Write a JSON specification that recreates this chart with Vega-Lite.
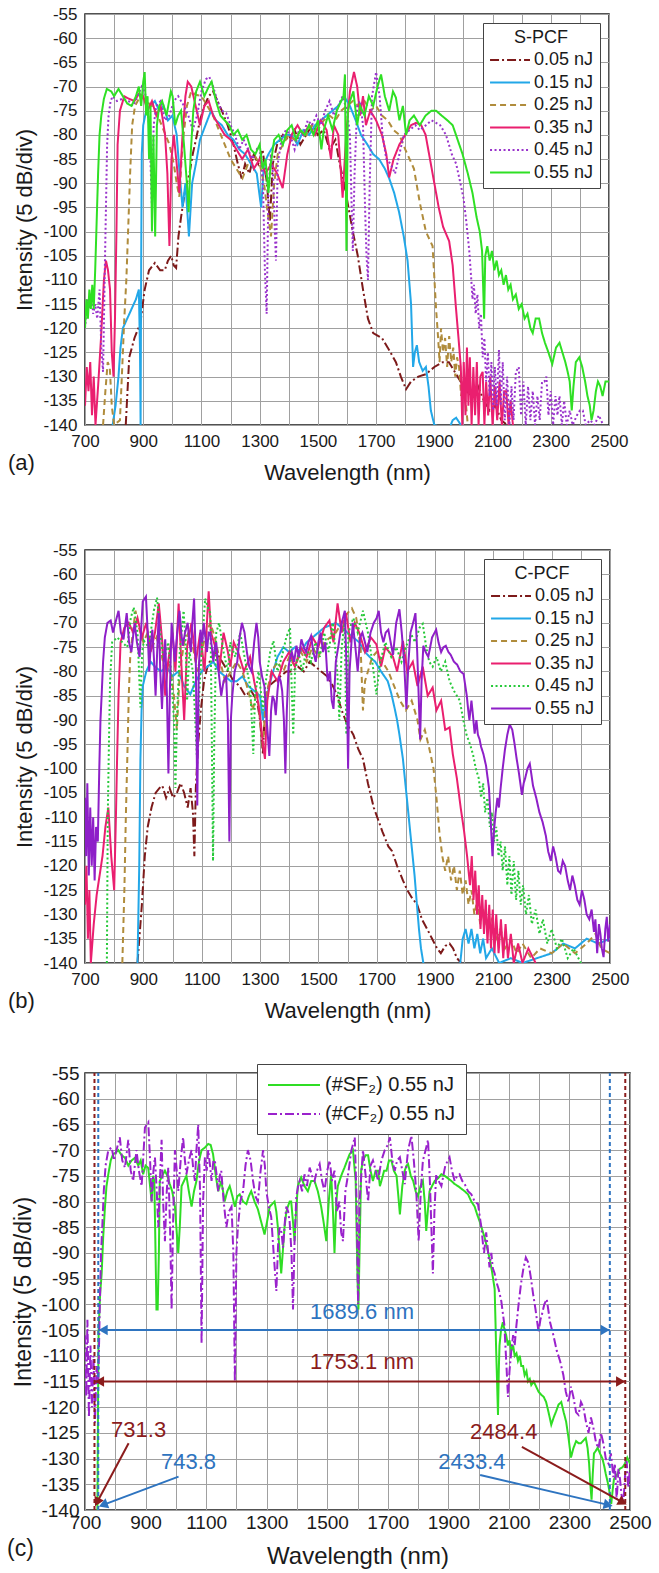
{
"$schema": "https://vega.github.io/schema/vega-lite/v6.json",
"background": "white",
"padding": {"left": 6, "top": 4, "right": 5, "bottom": 5},
"config": {
  "view": {"stroke": "#1a1a1a", "strokeWidth": 1.5},
  "axis": {"grid": true, "gridColor": "#a0a0a0", "gridWidth": 1, "ticks": false, "domain": false, "labelFont": "Liberation Sans", "titleFont": "Liberation Sans", "titleFontWeight": "normal", "labelColor": "#1a1a1a", "titleColor": "#1a1a1a", "labelOverlap": false, "labelFlush": false},
  "legend": {"labelFont": "Liberation Sans", "titleFont": "Liberation Sans", "titleFontWeight": "normal", "labelColor": "#1a1a1a", "titleColor": "#1a1a1a"},
  "title": {"font": "Liberation Sans", "fontWeight": "normal", "color": "#1a1a1a"}
},
"datasets": {
"a": [
{"s":"0.05 nJ","x":840,"y":-140},{"s":"0.05 nJ","x":852,"y":-126},{"s":"0.05 nJ","x":870,"y":-122},{"s":"0.05 nJ","x":890,"y":-119},{"s":"0.05 nJ","x":905,"y":-112},{"s":"0.05 nJ","x":920,"y":-108},{"s":"0.05 nJ","x":940,"y":-106.5},{"s":"0.05 nJ","x":958,"y":-108},{"s":"0.05 nJ","x":974,"y":-108},{"s":"0.05 nJ","x":985,"y":-106},{"s":"0.05 nJ","x":996,"y":-105},{"s":"0.05 nJ","x":1005,"y":-107},{"s":"0.05 nJ","x":1013,"y":-107.5},{"s":"0.05 nJ","x":1021,"y":-101},{"s":"0.05 nJ","x":1030,"y":-97},{"s":"0.05 nJ","x":1045,"y":-91},{"s":"0.05 nJ","x":1059,"y":-88},{"s":"0.05 nJ","x":1070,"y":-84},{"s":"0.05 nJ","x":1081,"y":-81},{"s":"0.05 nJ","x":1095,"y":-77},{"s":"0.05 nJ","x":1110,"y":-74},{"s":"0.05 nJ","x":1125,"y":-72},{"s":"0.05 nJ","x":1140,"y":-71},{"s":"0.05 nJ","x":1155,"y":-73},{"s":"0.05 nJ","x":1170,"y":-75},{"s":"0.05 nJ","x":1190,"y":-78},{"s":"0.05 nJ","x":1210,"y":-82},{"s":"0.05 nJ","x":1225,"y":-86},{"s":"0.05 nJ","x":1238,"y":-89},{"s":"0.05 nJ","x":1250,"y":-86},{"s":"0.05 nJ","x":1265,"y":-88},{"s":"0.05 nJ","x":1280,"y":-84},{"s":"0.05 nJ","x":1295,"y":-86},{"s":"0.05 nJ","x":1310,"y":-83},{"s":"0.05 nJ","x":1325,"y":-90},{"s":"0.05 nJ","x":1335,"y":-98},{"s":"0.05 nJ","x":1345,"y":-86},{"s":"0.05 nJ","x":1360,"y":-82},{"s":"0.05 nJ","x":1380,"y":-80},{"s":"0.05 nJ","x":1400,"y":-81},{"s":"0.05 nJ","x":1420,"y":-79},{"s":"0.05 nJ","x":1440,"y":-82},{"s":"0.05 nJ","x":1460,"y":-80},{"s":"0.05 nJ","x":1480,"y":-78},{"s":"0.05 nJ","x":1500,"y":-80},{"s":"0.05 nJ","x":1520,"y":-79},{"s":"0.05 nJ","x":1540,"y":-83},{"s":"0.05 nJ","x":1560,"y":-81},{"s":"0.05 nJ","x":1575,"y":-86},{"s":"0.05 nJ","x":1590,"y":-90},{"s":"0.05 nJ","x":1605,"y":-95},{"s":"0.05 nJ","x":1620,"y":-100},{"s":"0.05 nJ","x":1637,"y":-105},{"s":"0.05 nJ","x":1655,"y":-112},{"s":"0.05 nJ","x":1672,"y":-118},{"s":"0.05 nJ","x":1690,"y":-121},{"s":"0.05 nJ","x":1705,"y":-121.5},{"s":"0.05 nJ","x":1720,"y":-122},{"s":"0.05 nJ","x":1740,"y":-124},{"s":"0.05 nJ","x":1768,"y":-127},{"s":"0.05 nJ","x":1785,"y":-130},{"s":"0.05 nJ","x":1803,"y":-132.6},{"s":"0.05 nJ","x":1820,"y":-131},{"s":"0.05 nJ","x":1845,"y":-130},{"s":"0.05 nJ","x":1871,"y":-129.5},{"s":"0.05 nJ","x":1900,"y":-128},{"s":"0.05 nJ","x":1929,"y":-127},{"s":"0.05 nJ","x":1950,"y":-127},{"s":"0.05 nJ","x":1970,"y":-129},{"s":"0.05 nJ","x":1990,"y":-131},{"s":"0.05 nJ","x":2010,"y":-133},{"s":"0.05 nJ","x":2030,"y":-134},{"s":"0.05 nJ","x":2050,"y":-132},{"s":"0.05 nJ","x":2070,"y":-135},{"s":"0.05 nJ","x":2090,"y":-137},{"s":"0.05 nJ","x":2110,"y":-136},{"s":"0.05 nJ","x":2130,"y":-139},{"s":"0.05 nJ","x":2150,"y":-140},
{"s":"0.15 nJ","x":795,"y":-140},{"s":"0.15 nJ","x":805,"y":-136},{"s":"0.15 nJ","x":815,"y":-130},{"s":"0.15 nJ","x":822,"y":-124},{"s":"0.15 nJ","x":830,"y":-120},{"s":"0.15 nJ","x":845,"y":-118},{"s":"0.15 nJ","x":860,"y":-116},{"s":"0.15 nJ","x":875,"y":-114},{"s":"0.15 nJ","x":885,"y":-112},{"s":"0.15 nJ","x":889,"y":-125},{"s":"0.15 nJ","x":891,"y":-140},{"s":"0.15 nJ","x":893,"y":-106},{"s":"0.15 nJ","x":895,"y":-84},{"s":"0.15 nJ","x":900,"y":-78},{"s":"0.15 nJ","x":910,"y":-75},{"s":"0.15 nJ","x":925,"y":-74},{"s":"0.15 nJ","x":940,"y":-73},{"s":"0.15 nJ","x":955,"y":-75},{"s":"0.15 nJ","x":970,"y":-74},{"s":"0.15 nJ","x":985,"y":-77},{"s":"0.15 nJ","x":1000,"y":-76},{"s":"0.15 nJ","x":1015,"y":-80},{"s":"0.15 nJ","x":1025,"y":-88},{"s":"0.15 nJ","x":1035,"y":-95},{"s":"0.15 nJ","x":1045,"y":-90},{"s":"0.15 nJ","x":1057,"y":-101},{"s":"0.15 nJ","x":1068,"y":-90},{"s":"0.15 nJ","x":1081,"y":-86},{"s":"0.15 nJ","x":1095,"y":-81},{"s":"0.15 nJ","x":1110,"y":-78.6},{"s":"0.15 nJ","x":1133,"y":-75},{"s":"0.15 nJ","x":1150,"y":-77},{"s":"0.15 nJ","x":1170,"y":-78},{"s":"0.15 nJ","x":1190,"y":-80},{"s":"0.15 nJ","x":1210,"y":-81},{"s":"0.15 nJ","x":1230,"y":-83},{"s":"0.15 nJ","x":1250,"y":-84},{"s":"0.15 nJ","x":1270,"y":-86},{"s":"0.15 nJ","x":1290,"y":-88},{"s":"0.15 nJ","x":1305,"y":-95},{"s":"0.15 nJ","x":1315,"y":-86},{"s":"0.15 nJ","x":1330,"y":-84},{"s":"0.15 nJ","x":1350,"y":-82},{"s":"0.15 nJ","x":1370,"y":-81},{"s":"0.15 nJ","x":1390,"y":-80},{"s":"0.15 nJ","x":1410,"y":-80},{"s":"0.15 nJ","x":1430,"y":-82},{"s":"0.15 nJ","x":1450,"y":-79},{"s":"0.15 nJ","x":1470,"y":-80},{"s":"0.15 nJ","x":1490,"y":-78},{"s":"0.15 nJ","x":1510,"y":-77},{"s":"0.15 nJ","x":1530,"y":-76},{"s":"0.15 nJ","x":1550,"y":-75},{"s":"0.15 nJ","x":1570,"y":-74},{"s":"0.15 nJ","x":1590,"y":-72},{"s":"0.15 nJ","x":1610,"y":-74},{"s":"0.15 nJ","x":1630,"y":-77},{"s":"0.15 nJ","x":1648,"y":-80},{"s":"0.15 nJ","x":1670,"y":-82},{"s":"0.15 nJ","x":1690,"y":-84},{"s":"0.15 nJ","x":1710,"y":-85},{"s":"0.15 nJ","x":1730,"y":-87},{"s":"0.15 nJ","x":1745,"y":-89},{"s":"0.15 nJ","x":1762,"y":-92},{"s":"0.15 nJ","x":1779,"y":-96},{"s":"0.15 nJ","x":1795,"y":-101},{"s":"0.15 nJ","x":1808,"y":-106},{"s":"0.15 nJ","x":1820,"y":-115},{"s":"0.15 nJ","x":1827,"y":-128},{"s":"0.15 nJ","x":1833,"y":-125},{"s":"0.15 nJ","x":1840,"y":-123.5},{"s":"0.15 nJ","x":1848,"y":-127},{"s":"0.15 nJ","x":1860,"y":-128.8},{"s":"0.15 nJ","x":1871,"y":-128},{"s":"0.15 nJ","x":1880,"y":-132},{"s":"0.15 nJ","x":1888,"y":-137},{"s":"0.15 nJ","x":1900,"y":-140},{"s":"0.15 nJ","x":1950,"y":-141},{"s":"0.15 nJ","x":1963,"y":-139},{"s":"0.15 nJ","x":1975,"y":-138.5},{"s":"0.15 nJ","x":1986,"y":-139.5},{"s":"0.15 nJ","x":2000,"y":-141},
{"s":"0.25 nJ","x":762,"y":-140},{"s":"0.25 nJ","x":770,"y":-133},{"s":"0.25 nJ","x":778,"y":-127},{"s":"0.25 nJ","x":785,"y":-128},{"s":"0.25 nJ","x":792,"y":-136},{"s":"0.25 nJ","x":800,"y":-140},{"s":"0.25 nJ","x":820,"y":-139},{"s":"0.25 nJ","x":828,"y":-128},{"s":"0.25 nJ","x":835,"y":-118},{"s":"0.25 nJ","x":842,"y":-110},{"s":"0.25 nJ","x":848,"y":-100},{"s":"0.25 nJ","x":855,"y":-88},{"s":"0.25 nJ","x":862,"y":-78},{"s":"0.25 nJ","x":872,"y":-74},{"s":"0.25 nJ","x":890,"y":-72},{"s":"0.25 nJ","x":910,"y":-73},{"s":"0.25 nJ","x":930,"y":-74},{"s":"0.25 nJ","x":950,"y":-76},{"s":"0.25 nJ","x":970,"y":-79},{"s":"0.25 nJ","x":990,"y":-82},{"s":"0.25 nJ","x":1005,"y":-86},{"s":"0.25 nJ","x":1015,"y":-90},{"s":"0.25 nJ","x":1024,"y":-92.8},{"s":"0.25 nJ","x":1035,"y":-82},{"s":"0.25 nJ","x":1050,"y":-74},{"s":"0.25 nJ","x":1065,"y":-71},{"s":"0.25 nJ","x":1081,"y":-71.7},{"s":"0.25 nJ","x":1100,"y":-72},{"s":"0.25 nJ","x":1120,"y":-74},{"s":"0.25 nJ","x":1140,"y":-76},{"s":"0.25 nJ","x":1160,"y":-79},{"s":"0.25 nJ","x":1180,"y":-82},{"s":"0.25 nJ","x":1200,"y":-85},{"s":"0.25 nJ","x":1220,"y":-87},{"s":"0.25 nJ","x":1241,"y":-89},{"s":"0.25 nJ","x":1260,"y":-86},{"s":"0.25 nJ","x":1280,"y":-84},{"s":"0.25 nJ","x":1300,"y":-86},{"s":"0.25 nJ","x":1315,"y":-90},{"s":"0.25 nJ","x":1325,"y":-95},{"s":"0.25 nJ","x":1339,"y":-101},{"s":"0.25 nJ","x":1350,"y":-90},{"s":"0.25 nJ","x":1362,"y":-84},{"s":"0.25 nJ","x":1380,"y":-82},{"s":"0.25 nJ","x":1400,"y":-80},{"s":"0.25 nJ","x":1420,"y":-81},{"s":"0.25 nJ","x":1440,"y":-79},{"s":"0.25 nJ","x":1460,"y":-80},{"s":"0.25 nJ","x":1480,"y":-78},{"s":"0.25 nJ","x":1500,"y":-79},{"s":"0.25 nJ","x":1520,"y":-77},{"s":"0.25 nJ","x":1540,"y":-76},{"s":"0.25 nJ","x":1560,"y":-77},{"s":"0.25 nJ","x":1580,"y":-75},{"s":"0.25 nJ","x":1600,"y":-74},{"s":"0.25 nJ","x":1620,"y":-73},{"s":"0.25 nJ","x":1640,"y":-74},{"s":"0.25 nJ","x":1660,"y":-73},{"s":"0.25 nJ","x":1680,"y":-75},{"s":"0.25 nJ","x":1700,"y":-74},{"s":"0.25 nJ","x":1720,"y":-76},{"s":"0.25 nJ","x":1740,"y":-77},{"s":"0.25 nJ","x":1760,"y":-79},{"s":"0.25 nJ","x":1780,"y":-80},{"s":"0.25 nJ","x":1800,"y":-83},{"s":"0.25 nJ","x":1815,"y":-85},{"s":"0.25 nJ","x":1830,"y":-87},{"s":"0.25 nJ","x":1850,"y":-94},{"s":"0.25 nJ","x":1871,"y":-100},{"s":"0.25 nJ","x":1894,"y":-103},{"s":"0.25 nJ","x":1906,"y":-116},{"s":"0.25 nJ","x":1913,"y":-122},{"s":"0.25 nJ","x":1918,"y":-127},{"s":"0.25 nJ","x":1923,"y":-120},{"s":"0.25 nJ","x":1930,"y":-125},{"s":"0.25 nJ","x":1937,"y":-122},{"s":"0.25 nJ","x":1944,"y":-128},{"s":"0.25 nJ","x":1951,"y":-121.6},{"s":"0.25 nJ","x":1958,"y":-127},{"s":"0.25 nJ","x":1965,"y":-124},{"s":"0.25 nJ","x":1972,"y":-130},{"s":"0.25 nJ","x":1978,"y":-126},{"s":"0.25 nJ","x":1985,"y":-128},{"s":"0.25 nJ","x":1992,"y":-134},{"s":"0.25 nJ","x":2000,"y":-131},{"s":"0.25 nJ","x":2009,"y":-136},{"s":"0.25 nJ","x":2015,"y":-140},
{"s":"0.35 nJ","x":700,"y":-136},{"s":"0.35 nJ","x":706,"y":-128},{"s":"0.35 nJ","x":712,"y":-133},{"s":"0.35 nJ","x":718,"y":-127},{"s":"0.35 nJ","x":724,"y":-138},{"s":"0.35 nJ","x":730,"y":-130},{"s":"0.35 nJ","x":736,"y":-140},{"s":"0.35 nJ","x":745,"y":-132},{"s":"0.35 nJ","x":755,"y":-122},{"s":"0.35 nJ","x":765,"y":-110},{"s":"0.35 nJ","x":772,"y":-106},{"s":"0.35 nJ","x":779,"y":-108},{"s":"0.35 nJ","x":786,"y":-112},{"s":"0.35 nJ","x":792,"y":-125},{"s":"0.35 nJ","x":798,"y":-130},{"s":"0.35 nJ","x":803,"y":-118},{"s":"0.35 nJ","x":808,"y":-100},{"s":"0.35 nJ","x":812,"y":-82},{"s":"0.35 nJ","x":820,"y":-75},{"s":"0.35 nJ","x":835,"y":-72},{"s":"0.35 nJ","x":850,"y":-72.5},{"s":"0.35 nJ","x":870,"y":-73},{"s":"0.35 nJ","x":885,"y":-71.5},{"s":"0.35 nJ","x":900,"y":-72},{"s":"0.35 nJ","x":915,"y":-75},{"s":"0.35 nJ","x":930,"y":-73},{"s":"0.35 nJ","x":945,"y":-76},{"s":"0.35 nJ","x":960,"y":-74},{"s":"0.35 nJ","x":975,"y":-80},{"s":"0.35 nJ","x":983,"y":-88},{"s":"0.35 nJ","x":990,"y":-103},{"s":"0.35 nJ","x":997,"y":-85},{"s":"0.35 nJ","x":1005,"y":-80},{"s":"0.35 nJ","x":1015,"y":-86},{"s":"0.35 nJ","x":1024,"y":-92},{"s":"0.35 nJ","x":1035,"y":-80},{"s":"0.35 nJ","x":1045,"y":-72},{"s":"0.35 nJ","x":1053,"y":-69},{"s":"0.35 nJ","x":1065,"y":-70},{"s":"0.35 nJ","x":1080,"y":-74},{"s":"0.35 nJ","x":1095,"y":-78},{"s":"0.35 nJ","x":1110,"y":-74},{"s":"0.35 nJ","x":1125,"y":-73},{"s":"0.35 nJ","x":1140,"y":-76},{"s":"0.35 nJ","x":1160,"y":-78},{"s":"0.35 nJ","x":1180,"y":-80},{"s":"0.35 nJ","x":1200,"y":-81},{"s":"0.35 nJ","x":1220,"y":-83},{"s":"0.35 nJ","x":1240,"y":-85},{"s":"0.35 nJ","x":1260,"y":-83},{"s":"0.35 nJ","x":1280,"y":-87},{"s":"0.35 nJ","x":1300,"y":-85},{"s":"0.35 nJ","x":1320,"y":-88},{"s":"0.35 nJ","x":1340,"y":-86},{"s":"0.35 nJ","x":1360,"y":-88},{"s":"0.35 nJ","x":1379,"y":-91},{"s":"0.35 nJ","x":1395,"y":-84},{"s":"0.35 nJ","x":1410,"y":-80},{"s":"0.35 nJ","x":1430,"y":-78},{"s":"0.35 nJ","x":1450,"y":-80},{"s":"0.35 nJ","x":1470,"y":-78},{"s":"0.35 nJ","x":1490,"y":-80},{"s":"0.35 nJ","x":1510,"y":-77},{"s":"0.35 nJ","x":1530,"y":-79},{"s":"0.35 nJ","x":1545,"y":-85},{"s":"0.35 nJ","x":1555,"y":-78},{"s":"0.35 nJ","x":1570,"y":-80},{"s":"0.35 nJ","x":1585,"y":-93},{"s":"0.35 nJ","x":1597,"y":-80},{"s":"0.35 nJ","x":1610,"y":-71},{"s":"0.35 nJ","x":1624,"y":-67},{"s":"0.35 nJ","x":1635,"y":-70},{"s":"0.35 nJ","x":1645,"y":-76},{"s":"0.35 nJ","x":1655,"y":-72},{"s":"0.35 nJ","x":1665,"y":-78},{"s":"0.35 nJ","x":1680,"y":-75},{"s":"0.35 nJ","x":1700,"y":-77},{"s":"0.35 nJ","x":1720,"y":-80},{"s":"0.35 nJ","x":1735,"y":-84},{"s":"0.35 nJ","x":1745,"y":-88.8},{"s":"0.35 nJ","x":1760,"y":-85},{"s":"0.35 nJ","x":1780,"y":-82},{"s":"0.35 nJ","x":1800,"y":-80},{"s":"0.35 nJ","x":1820,"y":-78},{"s":"0.35 nJ","x":1837,"y":-77.5},{"s":"0.35 nJ","x":1855,"y":-78},{"s":"0.35 nJ","x":1870,"y":-80},{"s":"0.35 nJ","x":1885,"y":-85},{"s":"0.35 nJ","x":1900,"y":-90},{"s":"0.35 nJ","x":1915,"y":-95},{"s":"0.35 nJ","x":1930,"y":-99},{"s":"0.35 nJ","x":1951,"y":-102},{"s":"0.35 nJ","x":1963,"y":-107},{"s":"0.35 nJ","x":1974,"y":-115.6},{"s":"0.35 nJ","x":1983,"y":-122},{"s":"0.35 nJ","x":1991,"y":-128},{"s":"0.35 nJ","x":1996,"y":-140},{"s":"0.35 nJ","x":2001,"y":-127},{"s":"0.35 nJ","x":2007,"y":-138},{"s":"0.35 nJ","x":2012,"y":-124},{"s":"0.35 nJ","x":2017,"y":-136},{"s":"0.35 nJ","x":2022,"y":-126},{"s":"0.35 nJ","x":2028,"y":-140},{"s":"0.35 nJ","x":2034,"y":-128},{"s":"0.35 nJ","x":2040,"y":-138},{"s":"0.35 nJ","x":2046,"y":-127},{"s":"0.35 nJ","x":2052,"y":-140},{"s":"0.35 nJ","x":2058,"y":-130},{"s":"0.35 nJ","x":2066,"y":-129},{"s":"0.35 nJ","x":2072,"y":-140},{"s":"0.35 nJ","x":2078,"y":-131},{"s":"0.35 nJ","x":2085,"y":-138},{"s":"0.35 nJ","x":2092,"y":-130},{"s":"0.35 nJ","x":2100,"y":-140},{"s":"0.35 nJ","x":2108,"y":-132},{"s":"0.35 nJ","x":2116,"y":-139},{"s":"0.35 nJ","x":2124,"y":-131},{"s":"0.35 nJ","x":2132,"y":-140},{"s":"0.35 nJ","x":2140,"y":-133},{"s":"0.35 nJ","x":2147,"y":-133},{"s":"0.35 nJ","x":2155,"y":-140},{"s":"0.35 nJ","x":2162,"y":-135},{"s":"0.35 nJ","x":2170,"y":-140},
{"s":"0.45 nJ","x":700,"y":-120},{"s":"0.45 nJ","x":708,"y":-114},{"s":"0.45 nJ","x":715,"y":-116},{"s":"0.45 nJ","x":722,"y":-113},{"s":"0.45 nJ","x":728,"y":-117},{"s":"0.45 nJ","x":735,"y":-115},{"s":"0.45 nJ","x":742,"y":-118},{"s":"0.45 nJ","x":750,"y":-112},{"s":"0.45 nJ","x":756,"y":-124},{"s":"0.45 nJ","x":762,"y":-129},{"s":"0.45 nJ","x":768,"y":-108},{"s":"0.45 nJ","x":772,"y":-95},{"s":"0.45 nJ","x":776,"y":-82},{"s":"0.45 nJ","x":781,"y":-76},{"s":"0.45 nJ","x":788,"y":-73},{"s":"0.45 nJ","x":795,"y":-72},{"s":"0.45 nJ","x":810,"y":-73},{"s":"0.45 nJ","x":830,"y":-72.5},{"s":"0.45 nJ","x":850,"y":-73},{"s":"0.45 nJ","x":865,"y":-74},{"s":"0.45 nJ","x":880,"y":-72},{"s":"0.45 nJ","x":895,"y":-70},{"s":"0.45 nJ","x":905,"y":-71},{"s":"0.45 nJ","x":915,"y":-74},{"s":"0.45 nJ","x":922,"y":-80},{"s":"0.45 nJ","x":930,"y":-95},{"s":"0.45 nJ","x":936,"y":-78},{"s":"0.45 nJ","x":945,"y":-74},{"s":"0.45 nJ","x":960,"y":-73},{"s":"0.45 nJ","x":975,"y":-77},{"s":"0.45 nJ","x":990,"y":-76},{"s":"0.45 nJ","x":1005,"y":-73},{"s":"0.45 nJ","x":1020,"y":-72},{"s":"0.45 nJ","x":1040,"y":-74},{"s":"0.45 nJ","x":1055,"y":-76},{"s":"0.45 nJ","x":1070,"y":-79},{"s":"0.45 nJ","x":1085,"y":-76},{"s":"0.45 nJ","x":1100,"y":-71},{"s":"0.45 nJ","x":1115,"y":-68.5},{"s":"0.45 nJ","x":1127,"y":-68},{"s":"0.45 nJ","x":1140,"y":-70},{"s":"0.45 nJ","x":1155,"y":-73},{"s":"0.45 nJ","x":1170,"y":-75},{"s":"0.45 nJ","x":1185,"y":-75.5},{"s":"0.45 nJ","x":1200,"y":-78},{"s":"0.45 nJ","x":1215,"y":-80},{"s":"0.45 nJ","x":1230,"y":-83},{"s":"0.45 nJ","x":1245,"y":-81},{"s":"0.45 nJ","x":1260,"y":-83},{"s":"0.45 nJ","x":1275,"y":-85},{"s":"0.45 nJ","x":1290,"y":-83},{"s":"0.45 nJ","x":1305,"y":-84},{"s":"0.45 nJ","x":1312,"y":-92},{"s":"0.45 nJ","x":1318,"y":-108},{"s":"0.45 nJ","x":1324,"y":-117},{"s":"0.45 nJ","x":1330,"y":-92},{"s":"0.45 nJ","x":1338,"y":-84},{"s":"0.45 nJ","x":1346,"y":-88},{"s":"0.45 nJ","x":1352,"y":-100},{"s":"0.45 nJ","x":1356,"y":-106},{"s":"0.45 nJ","x":1362,"y":-86},{"s":"0.45 nJ","x":1375,"y":-81},{"s":"0.45 nJ","x":1390,"y":-79},{"s":"0.45 nJ","x":1405,"y":-80},{"s":"0.45 nJ","x":1420,"y":-83},{"s":"0.45 nJ","x":1435,"y":-79},{"s":"0.45 nJ","x":1450,"y":-80},{"s":"0.45 nJ","x":1465,"y":-77},{"s":"0.45 nJ","x":1480,"y":-78},{"s":"0.45 nJ","x":1495,"y":-76},{"s":"0.45 nJ","x":1510,"y":-78},{"s":"0.45 nJ","x":1525,"y":-75},{"s":"0.45 nJ","x":1540,"y":-73},{"s":"0.45 nJ","x":1555,"y":-76},{"s":"0.45 nJ","x":1570,"y":-74},{"s":"0.45 nJ","x":1585,"y":-72},{"s":"0.45 nJ","x":1600,"y":-75},{"s":"0.45 nJ","x":1610,"y":-80},{"s":"0.45 nJ","x":1616,"y":-95},{"s":"0.45 nJ","x":1620,"y":-104},{"s":"0.45 nJ","x":1626,"y":-88},{"s":"0.45 nJ","x":1635,"y":-74},{"s":"0.45 nJ","x":1645,"y":-73},{"s":"0.45 nJ","x":1655,"y":-78},{"s":"0.45 nJ","x":1662,"y":-95},{"s":"0.45 nJ","x":1667,"y":-105},{"s":"0.45 nJ","x":1672,"y":-110},{"s":"0.45 nJ","x":1678,"y":-90},{"s":"0.45 nJ","x":1686,"y":-72},{"s":"0.45 nJ","x":1700,"y":-67},{"s":"0.45 nJ","x":1712,"y":-72},{"s":"0.45 nJ","x":1722,"y":-80},{"s":"0.45 nJ","x":1735,"y":-85},{"s":"0.45 nJ","x":1750,"y":-86},{"s":"0.45 nJ","x":1765,"y":-88},{"s":"0.45 nJ","x":1780,"y":-84},{"s":"0.45 nJ","x":1795,"y":-80},{"s":"0.45 nJ","x":1815,"y":-79},{"s":"0.45 nJ","x":1835,"y":-78},{"s":"0.45 nJ","x":1850,"y":-79},{"s":"0.45 nJ","x":1871,"y":-78},{"s":"0.45 nJ","x":1890,"y":-77},{"s":"0.45 nJ","x":1906,"y":-77.5},{"s":"0.45 nJ","x":1920,"y":-78},{"s":"0.45 nJ","x":1940,"y":-80},{"s":"0.45 nJ","x":1960,"y":-84},{"s":"0.45 nJ","x":1975,"y":-86},{"s":"0.45 nJ","x":1986,"y":-89},{"s":"0.45 nJ","x":2000,"y":-93},{"s":"0.45 nJ","x":2010,"y":-98},{"s":"0.45 nJ","x":2020,"y":-104},{"s":"0.45 nJ","x":2027,"y":-110},{"s":"0.45 nJ","x":2031,"y":-114},{"s":"0.45 nJ","x":2036,"y":-111},{"s":"0.45 nJ","x":2042,"y":-117},{"s":"0.45 nJ","x":2048,"y":-113},{"s":"0.45 nJ","x":2054,"y":-120},{"s":"0.45 nJ","x":2060,"y":-117},{"s":"0.45 nJ","x":2066,"y":-126},{"s":"0.45 nJ","x":2072,"y":-122},{"s":"0.45 nJ","x":2078,"y":-131},{"s":"0.45 nJ","x":2084,"y":-125},{"s":"0.45 nJ","x":2090,"y":-134},{"s":"0.45 nJ","x":2096,"y":-127},{"s":"0.45 nJ","x":2102,"y":-137},{"s":"0.45 nJ","x":2108,"y":-128},{"s":"0.45 nJ","x":2114,"y":-136},{"s":"0.45 nJ","x":2122,"y":-124.5},{"s":"0.45 nJ","x":2128,"y":-136},{"s":"0.45 nJ","x":2135,"y":-127},{"s":"0.45 nJ","x":2142,"y":-139},{"s":"0.45 nJ","x":2150,"y":-130},{"s":"0.45 nJ","x":2158,"y":-140},{"s":"0.45 nJ","x":2165,"y":-132},{"s":"0.45 nJ","x":2172,"y":-139},{"s":"0.45 nJ","x":2180,"y":-129},{"s":"0.45 nJ","x":2190,"y":-128},{"s":"0.45 nJ","x":2198,"y":-138},{"s":"0.45 nJ","x":2206,"y":-131},{"s":"0.45 nJ","x":2214,"y":-140},{"s":"0.45 nJ","x":2222,"y":-132},{"s":"0.45 nJ","x":2230,"y":-139},{"s":"0.45 nJ","x":2238,"y":-133},{"s":"0.45 nJ","x":2246,"y":-140},{"s":"0.45 nJ","x":2254,"y":-134},{"s":"0.45 nJ","x":2262,"y":-139},{"s":"0.45 nJ","x":2270,"y":-131},{"s":"0.45 nJ","x":2278,"y":-131},{"s":"0.45 nJ","x":2285,"y":-130},{"s":"0.45 nJ","x":2292,"y":-138},{"s":"0.45 nJ","x":2300,"y":-133},{"s":"0.45 nJ","x":2308,"y":-140},{"s":"0.45 nJ","x":2316,"y":-134},{"s":"0.45 nJ","x":2323,"y":-138},{"s":"0.45 nJ","x":2330,"y":-134},{"s":"0.45 nJ","x":2338,"y":-140},{"s":"0.45 nJ","x":2346,"y":-135},{"s":"0.45 nJ","x":2355,"y":-140},{"s":"0.45 nJ","x":2365,"y":-137},{"s":"0.45 nJ","x":2375,"y":-140},{"s":"0.45 nJ","x":2390,"y":-138},{"s":"0.45 nJ","x":2400,"y":-137},{"s":"0.45 nJ","x":2410,"y":-137},{"s":"0.45 nJ","x":2420,"y":-140},{"s":"0.45 nJ","x":2435,"y":-139},{"s":"0.45 nJ","x":2450,"y":-140},{"s":"0.45 nJ","x":2465,"y":-138},{"s":"0.45 nJ","x":2480,"y":-140},
{"s":"0.55 nJ","x":700,"y":-120},{"s":"0.55 nJ","x":705,"y":-114},{"s":"0.55 nJ","x":710,"y":-118},{"s":"0.55 nJ","x":715,"y":-112},{"s":"0.55 nJ","x":720,"y":-116},{"s":"0.55 nJ","x":725,"y":-111},{"s":"0.55 nJ","x":730,"y":-116},{"s":"0.55 nJ","x":735,"y":-108},{"s":"0.55 nJ","x":740,"y":-98},{"s":"0.55 nJ","x":745,"y":-88},{"s":"0.55 nJ","x":750,"y":-80},{"s":"0.55 nJ","x":756,"y":-76},{"s":"0.55 nJ","x":765,"y":-72.5},{"s":"0.55 nJ","x":775,"y":-70.5},{"s":"0.55 nJ","x":790,"y":-71},{"s":"0.55 nJ","x":800,"y":-72},{"s":"0.55 nJ","x":815,"y":-70.5},{"s":"0.55 nJ","x":830,"y":-72},{"s":"0.55 nJ","x":845,"y":-73.5},{"s":"0.55 nJ","x":860,"y":-74},{"s":"0.55 nJ","x":875,"y":-72},{"s":"0.55 nJ","x":885,"y":-70},{"s":"0.55 nJ","x":893,"y":-74},{"s":"0.55 nJ","x":900,"y":-69},{"s":"0.55 nJ","x":905,"y":-67},{"s":"0.55 nJ","x":910,"y":-76},{"s":"0.55 nJ","x":915,"y":-72},{"s":"0.55 nJ","x":920,"y":-85},{"s":"0.55 nJ","x":925,"y":-74},{"s":"0.55 nJ","x":930,"y":-100},{"s":"0.55 nJ","x":935,"y":-80},{"s":"0.55 nJ","x":941,"y":-101},{"s":"0.55 nJ","x":947,"y":-78},{"s":"0.55 nJ","x":955,"y":-74},{"s":"0.55 nJ","x":965,"y":-73},{"s":"0.55 nJ","x":980,"y":-76},{"s":"0.55 nJ","x":995,"y":-71},{"s":"0.55 nJ","x":1001,"y":-72},{"s":"0.55 nJ","x":1010,"y":-78},{"s":"0.55 nJ","x":1020,"y":-76},{"s":"0.55 nJ","x":1030,"y":-75},{"s":"0.55 nJ","x":1040,"y":-82},{"s":"0.55 nJ","x":1050,"y":-90},{"s":"0.55 nJ","x":1056,"y":-96},{"s":"0.55 nJ","x":1063,"y":-84},{"s":"0.55 nJ","x":1072,"y":-75},{"s":"0.55 nJ","x":1082,"y":-71},{"s":"0.55 nJ","x":1095,"y":-69},{"s":"0.55 nJ","x":1110,"y":-72},{"s":"0.55 nJ","x":1125,"y":-70},{"s":"0.55 nJ","x":1135,"y":-69},{"s":"0.55 nJ","x":1150,"y":-73},{"s":"0.55 nJ","x":1165,"y":-76},{"s":"0.55 nJ","x":1180,"y":-77},{"s":"0.55 nJ","x":1195,"y":-78},{"s":"0.55 nJ","x":1210,"y":-80},{"s":"0.55 nJ","x":1225,"y":-79},{"s":"0.55 nJ","x":1240,"y":-81},{"s":"0.55 nJ","x":1255,"y":-80},{"s":"0.55 nJ","x":1270,"y":-83},{"s":"0.55 nJ","x":1285,"y":-84},{"s":"0.55 nJ","x":1300,"y":-82},{"s":"0.55 nJ","x":1310,"y":-87},{"s":"0.55 nJ","x":1320,"y":-85},{"s":"0.55 nJ","x":1330,"y":-92},{"s":"0.55 nJ","x":1338,"y":-86},{"s":"0.55 nJ","x":1350,"y":-81},{"s":"0.55 nJ","x":1365,"y":-80},{"s":"0.55 nJ","x":1380,"y":-82},{"s":"0.55 nJ","x":1395,"y":-79},{"s":"0.55 nJ","x":1410,"y":-78},{"s":"0.55 nJ","x":1425,"y":-81},{"s":"0.55 nJ","x":1440,"y":-79},{"s":"0.55 nJ","x":1455,"y":-80},{"s":"0.55 nJ","x":1470,"y":-78},{"s":"0.55 nJ","x":1485,"y":-80},{"s":"0.55 nJ","x":1500,"y":-77},{"s":"0.55 nJ","x":1512,"y":-83},{"s":"0.55 nJ","x":1520,"y":-79},{"s":"0.55 nJ","x":1535,"y":-76},{"s":"0.55 nJ","x":1550,"y":-79},{"s":"0.55 nJ","x":1565,"y":-75},{"s":"0.55 nJ","x":1580,"y":-73},{"s":"0.55 nJ","x":1588,"y":-72},{"s":"0.55 nJ","x":1593,"y":-67.5},{"s":"0.55 nJ","x":1598,"y":-104},{"s":"0.55 nJ","x":1603,"y":-75},{"s":"0.55 nJ","x":1610,"y":-73},{"s":"0.55 nJ","x":1622,"y":-71},{"s":"0.55 nJ","x":1635,"y":-78},{"s":"0.55 nJ","x":1645,"y":-74},{"s":"0.55 nJ","x":1660,"y":-76},{"s":"0.55 nJ","x":1675,"y":-72},{"s":"0.55 nJ","x":1690,"y":-74},{"s":"0.55 nJ","x":1705,"y":-70},{"s":"0.55 nJ","x":1717,"y":-67.5},{"s":"0.55 nJ","x":1730,"y":-72},{"s":"0.55 nJ","x":1745,"y":-75},{"s":"0.55 nJ","x":1758,"y":-71},{"s":"0.55 nJ","x":1768,"y":-72.3},{"s":"0.55 nJ","x":1780,"y":-77},{"s":"0.55 nJ","x":1792,"y":-74},{"s":"0.55 nJ","x":1803,"y":-80},{"s":"0.55 nJ","x":1815,"y":-77},{"s":"0.55 nJ","x":1830,"y":-76},{"s":"0.55 nJ","x":1850,"y":-78},{"s":"0.55 nJ","x":1870,"y":-76},{"s":"0.55 nJ","x":1890,"y":-75},{"s":"0.55 nJ","x":1906,"y":-75},{"s":"0.55 nJ","x":1925,"y":-76},{"s":"0.55 nJ","x":1945,"y":-77},{"s":"0.55 nJ","x":1963,"y":-78},{"s":"0.55 nJ","x":1980,"y":-81},{"s":"0.55 nJ","x":1997,"y":-84},{"s":"0.55 nJ","x":2015,"y":-88},{"s":"0.55 nJ","x":2031,"y":-92},{"s":"0.55 nJ","x":2045,"y":-97},{"s":"0.55 nJ","x":2056,"y":-100},{"s":"0.55 nJ","x":2064,"y":-104},{"s":"0.55 nJ","x":2068,"y":-112},{"s":"0.55 nJ","x":2071,"y":-118},{"s":"0.55 nJ","x":2075,"y":-105},{"s":"0.55 nJ","x":2082,"y":-103},{"s":"0.55 nJ","x":2090,"y":-106},{"s":"0.55 nJ","x":2098,"y":-104},{"s":"0.55 nJ","x":2106,"y":-108},{"s":"0.55 nJ","x":2114,"y":-106},{"s":"0.55 nJ","x":2122,"y":-109},{"s":"0.55 nJ","x":2130,"y":-108},{"s":"0.55 nJ","x":2138,"y":-111},{"s":"0.55 nJ","x":2146,"y":-109},{"s":"0.55 nJ","x":2154,"y":-112},{"s":"0.55 nJ","x":2162,"y":-111},{"s":"0.55 nJ","x":2170,"y":-114},{"s":"0.55 nJ","x":2180,"y":-113},{"s":"0.55 nJ","x":2190,"y":-116},{"s":"0.55 nJ","x":2200,"y":-115},{"s":"0.55 nJ","x":2210,"y":-118},{"s":"0.55 nJ","x":2220,"y":-117},{"s":"0.55 nJ","x":2230,"y":-120},{"s":"0.55 nJ","x":2238,"y":-121},{"s":"0.55 nJ","x":2248,"y":-118},{"s":"0.55 nJ","x":2260,"y":-118},{"s":"0.55 nJ","x":2270,"y":-121},{"s":"0.55 nJ","x":2280,"y":-123},{"s":"0.55 nJ","x":2292,"y":-125},{"s":"0.55 nJ","x":2305,"y":-127.4},{"s":"0.55 nJ","x":2318,"y":-124},{"s":"0.55 nJ","x":2330,"y":-123},{"s":"0.55 nJ","x":2340,"y":-125},{"s":"0.55 nJ","x":2350,"y":-127},{"s":"0.55 nJ","x":2358,"y":-129},{"s":"0.55 nJ","x":2365,"y":-131},{"s":"0.55 nJ","x":2372,"y":-137},{"s":"0.55 nJ","x":2378,"y":-132},{"s":"0.55 nJ","x":2386,"y":-127},{"s":"0.55 nJ","x":2398,"y":-126},{"s":"0.55 nJ","x":2408,"y":-128},{"s":"0.55 nJ","x":2418,"y":-131},{"s":"0.55 nJ","x":2426,"y":-134},{"s":"0.55 nJ","x":2434,"y":-136},{"s":"0.55 nJ","x":2440,"y":-139},{"s":"0.55 nJ","x":2447,"y":-137},{"s":"0.55 nJ","x":2455,"y":-133},{"s":"0.55 nJ","x":2462,"y":-131},{"s":"0.55 nJ","x":2470,"y":-132},{"s":"0.55 nJ","x":2478,"y":-134},{"s":"0.55 nJ","x":2488,"y":-131},{"s":"0.55 nJ","x":2500,"y":-131}
],
"b": [
{"s":"0.05 nJ","x":880,"y":-140},{"s":"0.05 nJ","x":895,"y":-128},{"s":"0.05 nJ","x":905,"y":-118},{"s":"0.05 nJ","x":915,"y":-112},{"s":"0.05 nJ","x":928,"y":-108},{"s":"0.05 nJ","x":942,"y":-105},{"s":"0.05 nJ","x":955,"y":-104},{"s":"0.05 nJ","x":965,"y":-103.5},{"s":"0.05 nJ","x":978,"y":-106},{"s":"0.05 nJ","x":990,"y":-104},{"s":"0.05 nJ","x":1002,"y":-106},{"s":"0.05 nJ","x":1015,"y":-105},{"s":"0.05 nJ","x":1028,"y":-103},{"s":"0.05 nJ","x":1040,"y":-105},{"s":"0.05 nJ","x":1052,"y":-108},{"s":"0.05 nJ","x":1062,"y":-104},{"s":"0.05 nJ","x":1070,"y":-109},{"s":"0.05 nJ","x":1075,"y":-118},{"s":"0.05 nJ","x":1080,"y":-104},{"s":"0.05 nJ","x":1088,"y":-95},{"s":"0.05 nJ","x":1097,"y":-88},{"s":"0.05 nJ","x":1108,"y":-82},{"s":"0.05 nJ","x":1120,"y":-79},{"s":"0.05 nJ","x":1135,"y":-77},{"s":"0.05 nJ","x":1150,"y":-76},{"s":"0.05 nJ","x":1170,"y":-78},{"s":"0.05 nJ","x":1190,"y":-80},{"s":"0.05 nJ","x":1210,"y":-82},{"s":"0.05 nJ","x":1230,"y":-83},{"s":"0.05 nJ","x":1250,"y":-85},{"s":"0.05 nJ","x":1270,"y":-84},{"s":"0.05 nJ","x":1290,"y":-86},{"s":"0.05 nJ","x":1300,"y":-90},{"s":"0.05 nJ","x":1310,"y":-97},{"s":"0.05 nJ","x":1318,"y":-86},{"s":"0.05 nJ","x":1330,"y":-83},{"s":"0.05 nJ","x":1350,"y":-82},{"s":"0.05 nJ","x":1370,"y":-81},{"s":"0.05 nJ","x":1390,"y":-80},{"s":"0.05 nJ","x":1410,"y":-80},{"s":"0.05 nJ","x":1430,"y":-79},{"s":"0.05 nJ","x":1450,"y":-80},{"s":"0.05 nJ","x":1470,"y":-78},{"s":"0.05 nJ","x":1490,"y":-79},{"s":"0.05 nJ","x":1510,"y":-80},{"s":"0.05 nJ","x":1530,"y":-81},{"s":"0.05 nJ","x":1550,"y":-83},{"s":"0.05 nJ","x":1565,"y":-85},{"s":"0.05 nJ","x":1580,"y":-88},{"s":"0.05 nJ","x":1600,"y":-91},{"s":"0.05 nJ","x":1620,"y":-93},{"s":"0.05 nJ","x":1637,"y":-96},{"s":"0.05 nJ","x":1653,"y":-98},{"s":"0.05 nJ","x":1670,"y":-103},{"s":"0.05 nJ","x":1690,"y":-108},{"s":"0.05 nJ","x":1702,"y":-110},{"s":"0.05 nJ","x":1720,"y":-113},{"s":"0.05 nJ","x":1740,"y":-116},{"s":"0.05 nJ","x":1753,"y":-117},{"s":"0.05 nJ","x":1770,"y":-120},{"s":"0.05 nJ","x":1790,"y":-123},{"s":"0.05 nJ","x":1805,"y":-125},{"s":"0.05 nJ","x":1820,"y":-126.5},{"s":"0.05 nJ","x":1839,"y":-128},{"s":"0.05 nJ","x":1855,"y":-131},{"s":"0.05 nJ","x":1873,"y":-133},{"s":"0.05 nJ","x":1890,"y":-135},{"s":"0.05 nJ","x":1907,"y":-137},{"s":"0.05 nJ","x":1920,"y":-138},{"s":"0.05 nJ","x":1935,"y":-136.5},{"s":"0.05 nJ","x":1950,"y":-136},{"s":"0.05 nJ","x":1962,"y":-137},{"s":"0.05 nJ","x":1975,"y":-139},{"s":"0.05 nJ","x":1990,"y":-140},
{"s":"0.15 nJ","x":880,"y":-140},{"s":"0.15 nJ","x":886,"y":-120},{"s":"0.15 nJ","x":890,"y":-98},{"s":"0.15 nJ","x":894,"y":-88},{"s":"0.15 nJ","x":898,"y":-83},{"s":"0.15 nJ","x":910,"y":-80},{"s":"0.15 nJ","x":925,"y":-78},{"s":"0.15 nJ","x":940,"y":-79},{"s":"0.15 nJ","x":960,"y":-80},{"s":"0.15 nJ","x":980,"y":-79},{"s":"0.15 nJ","x":1000,"y":-81},{"s":"0.15 nJ","x":1020,"y":-80},{"s":"0.15 nJ","x":1040,"y":-83},{"s":"0.15 nJ","x":1061,"y":-84.7},{"s":"0.15 nJ","x":1080,"y":-82},{"s":"0.15 nJ","x":1100,"y":-80},{"s":"0.15 nJ","x":1120,"y":-79},{"s":"0.15 nJ","x":1140,"y":-78},{"s":"0.15 nJ","x":1160,"y":-80},{"s":"0.15 nJ","x":1180,"y":-81},{"s":"0.15 nJ","x":1200,"y":-82},{"s":"0.15 nJ","x":1220,"y":-82},{"s":"0.15 nJ","x":1240,"y":-81},{"s":"0.15 nJ","x":1260,"y":-83},{"s":"0.15 nJ","x":1280,"y":-84},{"s":"0.15 nJ","x":1300,"y":-85},{"s":"0.15 nJ","x":1310,"y":-90},{"s":"0.15 nJ","x":1320,"y":-86},{"s":"0.15 nJ","x":1340,"y":-81},{"s":"0.15 nJ","x":1360,"y":-77},{"s":"0.15 nJ","x":1380,"y":-75},{"s":"0.15 nJ","x":1400,"y":-76},{"s":"0.15 nJ","x":1420,"y":-75},{"s":"0.15 nJ","x":1440,"y":-76},{"s":"0.15 nJ","x":1460,"y":-74},{"s":"0.15 nJ","x":1480,"y":-73},{"s":"0.15 nJ","x":1500,"y":-72},{"s":"0.15 nJ","x":1520,"y":-71},{"s":"0.15 nJ","x":1540,"y":-70.5},{"s":"0.15 nJ","x":1560,"y":-70},{"s":"0.15 nJ","x":1580,"y":-71},{"s":"0.15 nJ","x":1600,"y":-72},{"s":"0.15 nJ","x":1620,"y":-73},{"s":"0.15 nJ","x":1640,"y":-74},{"s":"0.15 nJ","x":1660,"y":-76},{"s":"0.15 nJ","x":1676,"y":-77},{"s":"0.15 nJ","x":1695,"y":-78},{"s":"0.15 nJ","x":1715,"y":-80},{"s":"0.15 nJ","x":1738,"y":-82},{"s":"0.15 nJ","x":1750,"y":-84.5},{"s":"0.15 nJ","x":1761,"y":-87.4},{"s":"0.15 nJ","x":1770,"y":-90},{"s":"0.15 nJ","x":1778,"y":-93},{"s":"0.15 nJ","x":1790,"y":-98},{"s":"0.15 nJ","x":1800,"y":-104},{"s":"0.15 nJ","x":1810,"y":-110},{"s":"0.15 nJ","x":1820,"y":-116},{"s":"0.15 nJ","x":1830,"y":-122},{"s":"0.15 nJ","x":1838,"y":-128},{"s":"0.15 nJ","x":1845,"y":-133},{"s":"0.15 nJ","x":1852,"y":-137},{"s":"0.15 nJ","x":1860,"y":-140},{"s":"0.15 nJ","x":1870,"y":-141},{"s":"0.15 nJ","x":1985,"y":-141},{"s":"0.15 nJ","x":1995,"y":-135},{"s":"0.15 nJ","x":2005,"y":-133},{"s":"0.15 nJ","x":2015,"y":-136},{"s":"0.15 nJ","x":2025,"y":-133},{"s":"0.15 nJ","x":2035,"y":-137},{"s":"0.15 nJ","x":2045,"y":-134},{"s":"0.15 nJ","x":2055,"y":-138},{"s":"0.15 nJ","x":2065,"y":-135},{"s":"0.15 nJ","x":2075,"y":-139},{"s":"0.15 nJ","x":2095,"y":-137},{"s":"0.15 nJ","x":2120,"y":-140},{"s":"0.15 nJ","x":2160,"y":-139},{"s":"0.15 nJ","x":2200,"y":-140},{"s":"0.15 nJ","x":2250,"y":-139},{"s":"0.15 nJ","x":2300,"y":-138},{"s":"0.15 nJ","x":2340,"y":-136},{"s":"0.15 nJ","x":2380,"y":-137},{"s":"0.15 nJ","x":2420,"y":-135},{"s":"0.15 nJ","x":2460,"y":-136},{"s":"0.15 nJ","x":2500,"y":-135},
{"s":"0.25 nJ","x":828,"y":-140},{"s":"0.25 nJ","x":835,"y":-125},{"s":"0.25 nJ","x":840,"y":-110},{"s":"0.25 nJ","x":845,"y":-98},{"s":"0.25 nJ","x":850,"y":-85},{"s":"0.25 nJ","x":855,"y":-77},{"s":"0.25 nJ","x":862,"y":-73},{"s":"0.25 nJ","x":873,"y":-67.5},{"s":"0.25 nJ","x":885,"y":-71},{"s":"0.25 nJ","x":900,"y":-74},{"s":"0.25 nJ","x":915,"y":-72},{"s":"0.25 nJ","x":930,"y":-75},{"s":"0.25 nJ","x":945,"y":-73},{"s":"0.25 nJ","x":960,"y":-76},{"s":"0.25 nJ","x":975,"y":-80},{"s":"0.25 nJ","x":990,"y":-78},{"s":"0.25 nJ","x":1005,"y":-85},{"s":"0.25 nJ","x":1015,"y":-92},{"s":"0.25 nJ","x":1025,"y":-80},{"s":"0.25 nJ","x":1040,"y":-74},{"s":"0.25 nJ","x":1055,"y":-72},{"s":"0.25 nJ","x":1070,"y":-75},{"s":"0.25 nJ","x":1085,"y":-80},{"s":"0.25 nJ","x":1100,"y":-76},{"s":"0.25 nJ","x":1115,"y":-72},{"s":"0.25 nJ","x":1130,"y":-70},{"s":"0.25 nJ","x":1145,"y":-73},{"s":"0.25 nJ","x":1160,"y":-77},{"s":"0.25 nJ","x":1180,"y":-82},{"s":"0.25 nJ","x":1200,"y":-80},{"s":"0.25 nJ","x":1220,"y":-78},{"s":"0.25 nJ","x":1240,"y":-80},{"s":"0.25 nJ","x":1260,"y":-84},{"s":"0.25 nJ","x":1275,"y":-88},{"s":"0.25 nJ","x":1290,"y":-84},{"s":"0.25 nJ","x":1310,"y":-96},{"s":"0.25 nJ","x":1320,"y":-85},{"s":"0.25 nJ","x":1340,"y":-80},{"s":"0.25 nJ","x":1360,"y":-78},{"s":"0.25 nJ","x":1380,"y":-80},{"s":"0.25 nJ","x":1400,"y":-77},{"s":"0.25 nJ","x":1420,"y":-79},{"s":"0.25 nJ","x":1440,"y":-76},{"s":"0.25 nJ","x":1460,"y":-78},{"s":"0.25 nJ","x":1480,"y":-75},{"s":"0.25 nJ","x":1500,"y":-77},{"s":"0.25 nJ","x":1520,"y":-74},{"s":"0.25 nJ","x":1540,"y":-73},{"s":"0.25 nJ","x":1560,"y":-72},{"s":"0.25 nJ","x":1580,"y":-70},{"s":"0.25 nJ","x":1600,"y":-68},{"s":"0.25 nJ","x":1615,"y":-67},{"s":"0.25 nJ","x":1630,"y":-69},{"s":"0.25 nJ","x":1645,"y":-75},{"s":"0.25 nJ","x":1653,"y":-88},{"s":"0.25 nJ","x":1660,"y":-82},{"s":"0.25 nJ","x":1670,"y":-80},{"s":"0.25 nJ","x":1685,"y":-77},{"s":"0.25 nJ","x":1700,"y":-76},{"s":"0.25 nJ","x":1720,"y":-78},{"s":"0.25 nJ","x":1740,"y":-80},{"s":"0.25 nJ","x":1760,"y":-83},{"s":"0.25 nJ","x":1780,"y":-86},{"s":"0.25 nJ","x":1800,"y":-88},{"s":"0.25 nJ","x":1820,"y":-86},{"s":"0.25 nJ","x":1840,"y":-90},{"s":"0.25 nJ","x":1850,"y":-94},{"s":"0.25 nJ","x":1865,"y":-92},{"s":"0.25 nJ","x":1881,"y":-96},{"s":"0.25 nJ","x":1895,"y":-100},{"s":"0.25 nJ","x":1905,"y":-106},{"s":"0.25 nJ","x":1915,"y":-113},{"s":"0.25 nJ","x":1925,"y":-118},{"s":"0.25 nJ","x":1935,"y":-121},{"s":"0.25 nJ","x":1945,"y":-118},{"s":"0.25 nJ","x":1955,"y":-123},{"s":"0.25 nJ","x":1965,"y":-120},{"s":"0.25 nJ","x":1975,"y":-125},{"s":"0.25 nJ","x":1985,"y":-121},{"s":"0.25 nJ","x":1995,"y":-126},{"s":"0.25 nJ","x":2005,"y":-123},{"s":"0.25 nJ","x":2015,"y":-128},{"s":"0.25 nJ","x":2025,"y":-125},{"s":"0.25 nJ","x":2035,"y":-130},{"s":"0.25 nJ","x":2045,"y":-127},{"s":"0.25 nJ","x":2055,"y":-132},{"s":"0.25 nJ","x":2065,"y":-129},{"s":"0.25 nJ","x":2080,"y":-133},{"s":"0.25 nJ","x":2095,"y":-131},{"s":"0.25 nJ","x":2110,"y":-135},{"s":"0.25 nJ","x":2125,"y":-133},{"s":"0.25 nJ","x":2140,"y":-137},{"s":"0.25 nJ","x":2160,"y":-135},{"s":"0.25 nJ","x":2180,"y":-138},{"s":"0.25 nJ","x":2200,"y":-136},{"s":"0.25 nJ","x":2230,"y":-139},{"s":"0.25 nJ","x":2260,"y":-137},{"s":"0.25 nJ","x":2300,"y":-138},{"s":"0.25 nJ","x":2340,"y":-136},{"s":"0.25 nJ","x":2380,"y":-138},{"s":"0.25 nJ","x":2420,"y":-136},{"s":"0.25 nJ","x":2450,"y":-134},{"s":"0.25 nJ","x":2470,"y":-137},{"s":"0.25 nJ","x":2500,"y":-138},
{"s":"0.35 nJ","x":700,"y":-128},{"s":"0.35 nJ","x":705,"y":-120},{"s":"0.35 nJ","x":710,"y":-135},{"s":"0.35 nJ","x":715,"y":-125},{"s":"0.35 nJ","x":720,"y":-140},{"s":"0.35 nJ","x":730,"y":-132},{"s":"0.35 nJ","x":740,"y":-126},{"s":"0.35 nJ","x":750,"y":-122},{"s":"0.35 nJ","x":760,"y":-118},{"s":"0.35 nJ","x":770,"y":-112},{"s":"0.35 nJ","x":780,"y":-108},{"s":"0.35 nJ","x":790,"y":-118},{"s":"0.35 nJ","x":800,"y":-125},{"s":"0.35 nJ","x":806,"y":-110},{"s":"0.35 nJ","x":810,"y":-98},{"s":"0.35 nJ","x":815,"y":-85},{"s":"0.35 nJ","x":822,"y":-74},{"s":"0.35 nJ","x":835,"y":-71},{"s":"0.35 nJ","x":850,"y":-70},{"s":"0.35 nJ","x":865,"y":-72},{"s":"0.35 nJ","x":880,"y":-69},{"s":"0.35 nJ","x":895,"y":-73},{"s":"0.35 nJ","x":910,"y":-70},{"s":"0.35 nJ","x":925,"y":-76},{"s":"0.35 nJ","x":940,"y":-72},{"s":"0.35 nJ","x":953,"y":-66},{"s":"0.35 nJ","x":965,"y":-74},{"s":"0.35 nJ","x":975,"y":-85},{"s":"0.35 nJ","x":985,"y":-78},{"s":"0.35 nJ","x":1000,"y":-72},{"s":"0.35 nJ","x":1010,"y":-80},{"s":"0.35 nJ","x":1021,"y":-66},{"s":"0.35 nJ","x":1030,"y":-78},{"s":"0.35 nJ","x":1040,"y":-90},{"s":"0.35 nJ","x":1050,"y":-75},{"s":"0.35 nJ","x":1065,"y":-70},{"s":"0.35 nJ","x":1080,"y":-78},{"s":"0.35 nJ","x":1095,"y":-72},{"s":"0.35 nJ","x":1110,"y":-80},{"s":"0.35 nJ","x":1118,"y":-70},{"s":"0.35 nJ","x":1124,"y":-63.5},{"s":"0.35 nJ","x":1132,"y":-72},{"s":"0.35 nJ","x":1147,"y":-75},{"s":"0.35 nJ","x":1160,"y":-80},{"s":"0.35 nJ","x":1175,"y":-72},{"s":"0.35 nJ","x":1190,"y":-76},{"s":"0.35 nJ","x":1198,"y":-79},{"s":"0.35 nJ","x":1210,"y":-74},{"s":"0.35 nJ","x":1225,"y":-76},{"s":"0.35 nJ","x":1245,"y":-80},{"s":"0.35 nJ","x":1266,"y":-77},{"s":"0.35 nJ","x":1280,"y":-82},{"s":"0.35 nJ","x":1290,"y":-85},{"s":"0.35 nJ","x":1300,"y":-89},{"s":"0.35 nJ","x":1310,"y":-95},{"s":"0.35 nJ","x":1317,"y":-98},{"s":"0.35 nJ","x":1325,"y":-86},{"s":"0.35 nJ","x":1340,"y":-80},{"s":"0.35 nJ","x":1360,"y":-82},{"s":"0.35 nJ","x":1380,"y":-78},{"s":"0.35 nJ","x":1400,"y":-76},{"s":"0.35 nJ","x":1420,"y":-79},{"s":"0.35 nJ","x":1440,"y":-75},{"s":"0.35 nJ","x":1460,"y":-77},{"s":"0.35 nJ","x":1480,"y":-73},{"s":"0.35 nJ","x":1500,"y":-75},{"s":"0.35 nJ","x":1520,"y":-71},{"s":"0.35 nJ","x":1538,"y":-69.5},{"s":"0.35 nJ","x":1552,"y":-74},{"s":"0.35 nJ","x":1566,"y":-66},{"s":"0.35 nJ","x":1580,"y":-72},{"s":"0.35 nJ","x":1595,"y":-68},{"s":"0.35 nJ","x":1610,"y":-74},{"s":"0.35 nJ","x":1625,"y":-70},{"s":"0.35 nJ","x":1642,"y":-72.3},{"s":"0.35 nJ","x":1660,"y":-76},{"s":"0.35 nJ","x":1680,"y":-73},{"s":"0.35 nJ","x":1699,"y":-74.4},{"s":"0.35 nJ","x":1715,"y":-79},{"s":"0.35 nJ","x":1730,"y":-75},{"s":"0.35 nJ","x":1756,"y":-77},{"s":"0.35 nJ","x":1770,"y":-80},{"s":"0.35 nJ","x":1790,"y":-73.7},{"s":"0.35 nJ","x":1805,"y":-80},{"s":"0.35 nJ","x":1824,"y":-78},{"s":"0.35 nJ","x":1840,"y":-83},{"s":"0.35 nJ","x":1858,"y":-79},{"s":"0.35 nJ","x":1875,"y":-85},{"s":"0.35 nJ","x":1892,"y":-83.3},{"s":"0.35 nJ","x":1905,"y":-88},{"s":"0.35 nJ","x":1921,"y":-86},{"s":"0.35 nJ","x":1935,"y":-92},{"s":"0.35 nJ","x":1950,"y":-91.5},{"s":"0.35 nJ","x":1961,"y":-97},{"s":"0.35 nJ","x":1975,"y":-102},{"s":"0.35 nJ","x":1988,"y":-108},{"s":"0.35 nJ","x":2000,"y":-113},{"s":"0.35 nJ","x":2010,"y":-118},{"s":"0.35 nJ","x":2020,"y":-124},{"s":"0.35 nJ","x":2026,"y":-118},{"s":"0.35 nJ","x":2032,"y":-127},{"s":"0.35 nJ","x":2038,"y":-121},{"s":"0.35 nJ","x":2044,"y":-130},{"s":"0.35 nJ","x":2050,"y":-124},{"s":"0.35 nJ","x":2056,"y":-133},{"s":"0.35 nJ","x":2062,"y":-126},{"s":"0.35 nJ","x":2068,"y":-134},{"s":"0.35 nJ","x":2074,"y":-127},{"s":"0.35 nJ","x":2080,"y":-136},{"s":"0.35 nJ","x":2086,"y":-128},{"s":"0.35 nJ","x":2092,"y":-137},{"s":"0.35 nJ","x":2098,"y":-129},{"s":"0.35 nJ","x":2104,"y":-138},{"s":"0.35 nJ","x":2110,"y":-130},{"s":"0.35 nJ","x":2118,"y":-138},{"s":"0.35 nJ","x":2126,"y":-131},{"s":"0.35 nJ","x":2134,"y":-139},{"s":"0.35 nJ","x":2142,"y":-132},{"s":"0.35 nJ","x":2150,"y":-139},{"s":"0.35 nJ","x":2160,"y":-134},{"s":"0.35 nJ","x":2170,"y":-140},{"s":"0.35 nJ","x":2185,"y":-136},{"s":"0.35 nJ","x":2200,"y":-140},{"s":"0.35 nJ","x":2220,"y":-137},{"s":"0.35 nJ","x":2245,"y":-140},
{"s":"0.45 nJ","x":775,"y":-140},{"s":"0.45 nJ","x":778,"y":-110},{"s":"0.45 nJ","x":782,"y":-95},{"s":"0.45 nJ","x":786,"y":-82},{"s":"0.45 nJ","x":793,"y":-74},{"s":"0.45 nJ","x":810,"y":-73},{"s":"0.45 nJ","x":828,"y":-74},{"s":"0.45 nJ","x":845,"y":-75},{"s":"0.45 nJ","x":857,"y":-69},{"s":"0.45 nJ","x":867,"y":-66.8},{"s":"0.45 nJ","x":880,"y":-72},{"s":"0.45 nJ","x":890,"y":-87.4},{"s":"0.45 nJ","x":896,"y":-76},{"s":"0.45 nJ","x":902,"y":-73.7},{"s":"0.45 nJ","x":918,"y":-75},{"s":"0.45 nJ","x":936,"y":-67.5},{"s":"0.45 nJ","x":947,"y":-64.8},{"s":"0.45 nJ","x":958,"y":-72},{"s":"0.45 nJ","x":970,"y":-78},{"s":"0.45 nJ","x":985,"y":-74},{"s":"0.45 nJ","x":995,"y":-80},{"s":"0.45 nJ","x":1005,"y":-90},{"s":"0.45 nJ","x":1010,"y":-104},{"s":"0.45 nJ","x":1016,"y":-88},{"s":"0.45 nJ","x":1025,"y":-76},{"s":"0.45 nJ","x":1038,"y":-67.5},{"s":"0.45 nJ","x":1045,"y":-74},{"s":"0.45 nJ","x":1050,"y":-86},{"s":"0.45 nJ","x":1058,"y":-76},{"s":"0.45 nJ","x":1070,"y":-80},{"s":"0.45 nJ","x":1078,"y":-90},{"s":"0.45 nJ","x":1084,"y":-98},{"s":"0.45 nJ","x":1092,"y":-84},{"s":"0.45 nJ","x":1104,"y":-72},{"s":"0.45 nJ","x":1112,"y":-65},{"s":"0.45 nJ","x":1122,"y":-67},{"s":"0.45 nJ","x":1130,"y":-68},{"s":"0.45 nJ","x":1135,"y":-95},{"s":"0.45 nJ","x":1139,"y":-119},{"s":"0.45 nJ","x":1143,"y":-95},{"s":"0.45 nJ","x":1150,"y":-72},{"s":"0.45 nJ","x":1160,"y":-70},{"s":"0.45 nJ","x":1175,"y":-76},{"s":"0.45 nJ","x":1190,"y":-80},{"s":"0.45 nJ","x":1198,"y":-74},{"s":"0.45 nJ","x":1215,"y":-77},{"s":"0.45 nJ","x":1232,"y":-72},{"s":"0.45 nJ","x":1250,"y":-78},{"s":"0.45 nJ","x":1266,"y":-83},{"s":"0.45 nJ","x":1272,"y":-90},{"s":"0.45 nJ","x":1277,"y":-97},{"s":"0.45 nJ","x":1283,"y":-85},{"s":"0.45 nJ","x":1295,"y":-80},{"s":"0.45 nJ","x":1310,"y":-88},{"s":"0.45 nJ","x":1320,"y":-82},{"s":"0.45 nJ","x":1335,"y":-76},{"s":"0.45 nJ","x":1346,"y":-73.7},{"s":"0.45 nJ","x":1360,"y":-80},{"s":"0.45 nJ","x":1375,"y":-77},{"s":"0.45 nJ","x":1390,"y":-73},{"s":"0.45 nJ","x":1403,"y":-71},{"s":"0.45 nJ","x":1408,"y":-82},{"s":"0.45 nJ","x":1414,"y":-93},{"s":"0.45 nJ","x":1420,"y":-80},{"s":"0.45 nJ","x":1432,"y":-76},{"s":"0.45 nJ","x":1445,"y":-80},{"s":"0.45 nJ","x":1460,"y":-75},{"s":"0.45 nJ","x":1475,"y":-78},{"s":"0.45 nJ","x":1490,"y":-74},{"s":"0.45 nJ","x":1505,"y":-77},{"s":"0.45 nJ","x":1520,"y":-72},{"s":"0.45 nJ","x":1535,"y":-76},{"s":"0.45 nJ","x":1550,"y":-70},{"s":"0.45 nJ","x":1565,"y":-80},{"s":"0.45 nJ","x":1572,"y":-90},{"s":"0.45 nJ","x":1580,"y":-75},{"s":"0.45 nJ","x":1590,"y":-70},{"s":"0.45 nJ","x":1596,"y":-93},{"s":"0.45 nJ","x":1603,"y":-72},{"s":"0.45 nJ","x":1620,"y":-69},{"s":"0.45 nJ","x":1635,"y":-72},{"s":"0.45 nJ","x":1653,"y":-67.5},{"s":"0.45 nJ","x":1670,"y":-72},{"s":"0.45 nJ","x":1685,"y":-78},{"s":"0.45 nJ","x":1699,"y":-84.7},{"s":"0.45 nJ","x":1712,"y":-78},{"s":"0.45 nJ","x":1730,"y":-74},{"s":"0.45 nJ","x":1750,"y":-77},{"s":"0.45 nJ","x":1767,"y":-75},{"s":"0.45 nJ","x":1785,"y":-78},{"s":"0.45 nJ","x":1800,"y":-75},{"s":"0.45 nJ","x":1818,"y":-72.3},{"s":"0.45 nJ","x":1832,"y":-74},{"s":"0.45 nJ","x":1847,"y":-71},{"s":"0.45 nJ","x":1858,"y":-70.2},{"s":"0.45 nJ","x":1870,"y":-75},{"s":"0.45 nJ","x":1880,"y":-78},{"s":"0.45 nJ","x":1892,"y":-79},{"s":"0.45 nJ","x":1905,"y":-77},{"s":"0.45 nJ","x":1920,"y":-80},{"s":"0.45 nJ","x":1935,"y":-78},{"s":"0.45 nJ","x":1950,"y":-82},{"s":"0.45 nJ","x":1965,"y":-84},{"s":"0.45 nJ","x":1985,"y":-86},{"s":"0.45 nJ","x":1997,"y":-90},{"s":"0.45 nJ","x":2008,"y":-93},{"s":"0.45 nJ","x":2020,"y":-95},{"s":"0.45 nJ","x":2030,"y":-97},{"s":"0.45 nJ","x":2040,"y":-100},{"s":"0.45 nJ","x":2050,"y":-102},{"s":"0.45 nJ","x":2058,"y":-106},{"s":"0.45 nJ","x":2065,"y":-103},{"s":"0.45 nJ","x":2072,"y":-109},{"s":"0.45 nJ","x":2080,"y":-106},{"s":"0.45 nJ","x":2088,"y":-112},{"s":"0.45 nJ","x":2095,"y":-109},{"s":"0.45 nJ","x":2102,"y":-115},{"s":"0.45 nJ","x":2110,"y":-112},{"s":"0.45 nJ","x":2118,"y":-118},{"s":"0.45 nJ","x":2125,"y":-115},{"s":"0.45 nJ","x":2132,"y":-121},{"s":"0.45 nJ","x":2140,"y":-116},{"s":"0.45 nJ","x":2148,"y":-124},{"s":"0.45 nJ","x":2155,"y":-118},{"s":"0.45 nJ","x":2162,"y":-126},{"s":"0.45 nJ","x":2170,"y":-119},{"s":"0.45 nJ","x":2178,"y":-127},{"s":"0.45 nJ","x":2186,"y":-121},{"s":"0.45 nJ","x":2194,"y":-128},{"s":"0.45 nJ","x":2202,"y":-124},{"s":"0.45 nJ","x":2212,"y":-130},{"s":"0.45 nJ","x":2222,"y":-126},{"s":"0.45 nJ","x":2232,"y":-132},{"s":"0.45 nJ","x":2245,"y":-129},{"s":"0.45 nJ","x":2258,"y":-134},{"s":"0.45 nJ","x":2270,"y":-131},{"s":"0.45 nJ","x":2285,"y":-136},{"s":"0.45 nJ","x":2300,"y":-133},{"s":"0.45 nJ","x":2318,"y":-137},{"s":"0.45 nJ","x":2335,"y":-135},{"s":"0.45 nJ","x":2355,"y":-139},{"s":"0.45 nJ","x":2375,"y":-137},{"s":"0.45 nJ","x":2400,"y":-140},
{"s":"0.55 nJ","x":700,"y":-106},{"s":"0.55 nJ","x":704,"y":-118},{"s":"0.55 nJ","x":708,"y":-103},{"s":"0.55 nJ","x":713,"y":-122},{"s":"0.55 nJ","x":718,"y":-108},{"s":"0.55 nJ","x":723,"y":-120},{"s":"0.55 nJ","x":728,"y":-110},{"s":"0.55 nJ","x":733,"y":-123},{"s":"0.55 nJ","x":738,"y":-112},{"s":"0.55 nJ","x":744,"y":-115},{"s":"0.55 nJ","x":749,"y":-100},{"s":"0.55 nJ","x":753,"y":-90},{"s":"0.55 nJ","x":757,"y":-85},{"s":"0.55 nJ","x":762,"y":-78},{"s":"0.55 nJ","x":768,"y":-73},{"s":"0.55 nJ","x":777,"y":-70},{"s":"0.55 nJ","x":788,"y":-69.5},{"s":"0.55 nJ","x":796,"y":-72},{"s":"0.55 nJ","x":804,"y":-70},{"s":"0.55 nJ","x":815,"y":-67.5},{"s":"0.55 nJ","x":823,"y":-72},{"s":"0.55 nJ","x":832,"y":-73.4},{"s":"0.55 nJ","x":843,"y":-68},{"s":"0.55 nJ","x":851,"y":-74},{"s":"0.55 nJ","x":859,"y":-76},{"s":"0.55 nJ","x":870,"y":-70},{"s":"0.55 nJ","x":878,"y":-74},{"s":"0.55 nJ","x":887,"y":-77},{"s":"0.55 nJ","x":898,"y":-65.6},{"s":"0.55 nJ","x":909,"y":-64.6},{"s":"0.55 nJ","x":915,"y":-72},{"s":"0.55 nJ","x":920,"y":-80},{"s":"0.55 nJ","x":926,"y":-74},{"s":"0.55 nJ","x":931,"y":-71.4},{"s":"0.55 nJ","x":937,"y":-78},{"s":"0.55 nJ","x":942,"y":-85},{"s":"0.55 nJ","x":948,"y":-75},{"s":"0.55 nJ","x":953,"y":-68},{"s":"0.55 nJ","x":958,"y":-80},{"s":"0.55 nJ","x":964,"y":-87.7},{"s":"0.55 nJ","x":970,"y":-78},{"s":"0.55 nJ","x":975,"y":-73.4},{"s":"0.55 nJ","x":981,"y":-85},{"s":"0.55 nJ","x":986,"y":-101},{"s":"0.55 nJ","x":991,"y":-84},{"s":"0.55 nJ","x":997,"y":-70},{"s":"0.55 nJ","x":1003,"y":-74},{"s":"0.55 nJ","x":1008,"y":-78},{"s":"0.55 nJ","x":1016,"y":-72},{"s":"0.55 nJ","x":1024,"y":-67.5},{"s":"0.55 nJ","x":1030,"y":-72},{"s":"0.55 nJ","x":1035,"y":-74.7},{"s":"0.55 nJ","x":1043,"y":-72},{"s":"0.55 nJ","x":1052,"y":-70},{"s":"0.55 nJ","x":1058,"y":-74},{"s":"0.55 nJ","x":1063,"y":-76},{"s":"0.55 nJ","x":1068,"y":-70},{"s":"0.55 nJ","x":1074,"y":-65},{"s":"0.55 nJ","x":1080,"y":-78},{"s":"0.55 nJ","x":1085,"y":-107.6},{"s":"0.55 nJ","x":1090,"y":-80},{"s":"0.55 nJ","x":1096,"y":-71.4},{"s":"0.55 nJ","x":1102,"y":-74},{"s":"0.55 nJ","x":1107,"y":-70},{"s":"0.55 nJ","x":1113,"y":-73},{"s":"0.55 nJ","x":1118,"y":-76},{"s":"0.55 nJ","x":1124,"y":-72},{"s":"0.55 nJ","x":1129,"y":-72},{"s":"0.55 nJ","x":1135,"y":-75},{"s":"0.55 nJ","x":1140,"y":-78},{"s":"0.55 nJ","x":1145,"y":-75},{"s":"0.55 nJ","x":1150,"y":-74},{"s":"0.55 nJ","x":1158,"y":-80},{"s":"0.55 nJ","x":1167,"y":-85},{"s":"0.55 nJ","x":1175,"y":-82},{"s":"0.55 nJ","x":1184,"y":-81},{"s":"0.55 nJ","x":1190,"y":-90},{"s":"0.55 nJ","x":1195,"y":-115},{"s":"0.55 nJ","x":1200,"y":-90},{"s":"0.55 nJ","x":1205,"y":-85},{"s":"0.55 nJ","x":1213,"y":-80},{"s":"0.55 nJ","x":1222,"y":-78},{"s":"0.55 nJ","x":1230,"y":-73},{"s":"0.55 nJ","x":1238,"y":-70},{"s":"0.55 nJ","x":1247,"y":-72},{"s":"0.55 nJ","x":1255,"y":-76},{"s":"0.55 nJ","x":1263,"y":-79},{"s":"0.55 nJ","x":1271,"y":-80},{"s":"0.55 nJ","x":1280,"y":-74},{"s":"0.55 nJ","x":1288,"y":-70},{"s":"0.55 nJ","x":1294,"y":-73},{"s":"0.55 nJ","x":1299,"y":-78},{"s":"0.55 nJ","x":1307,"y":-81},{"s":"0.55 nJ","x":1315,"y":-83},{"s":"0.55 nJ","x":1323,"y":-90},{"s":"0.55 nJ","x":1332,"y":-97.4},{"s":"0.55 nJ","x":1338,"y":-88},{"s":"0.55 nJ","x":1343,"y":-85},{"s":"0.55 nJ","x":1349,"y":-86},{"s":"0.55 nJ","x":1354,"y":-89},{"s":"0.55 nJ","x":1360,"y":-84},{"s":"0.55 nJ","x":1365,"y":-81},{"s":"0.55 nJ","x":1371,"y":-82},{"s":"0.55 nJ","x":1376,"y":-84},{"s":"0.55 nJ","x":1382,"y":-90},{"s":"0.55 nJ","x":1387,"y":-101},{"s":"0.55 nJ","x":1392,"y":-88},{"s":"0.55 nJ","x":1398,"y":-79},{"s":"0.55 nJ","x":1404,"y":-77},{"s":"0.55 nJ","x":1409,"y":-76},{"s":"0.55 nJ","x":1417,"y":-78},{"s":"0.55 nJ","x":1425,"y":-74.7},{"s":"0.55 nJ","x":1433,"y":-77},{"s":"0.55 nJ","x":1442,"y":-73.4},{"s":"0.55 nJ","x":1450,"y":-75},{"s":"0.55 nJ","x":1458,"y":-76},{"s":"0.55 nJ","x":1466,"y":-74},{"s":"0.55 nJ","x":1475,"y":-72.7},{"s":"0.55 nJ","x":1483,"y":-76},{"s":"0.55 nJ","x":1491,"y":-78},{"s":"0.55 nJ","x":1500,"y":-74},{"s":"0.55 nJ","x":1508,"y":-72},{"s":"0.55 nJ","x":1516,"y":-76},{"s":"0.55 nJ","x":1524,"y":-74},{"s":"0.55 nJ","x":1532,"y":-82},{"s":"0.55 nJ","x":1540,"y":-80},{"s":"0.55 nJ","x":1546,"y":-86},{"s":"0.55 nJ","x":1552,"y":-87.7},{"s":"0.55 nJ","x":1560,"y":-78},{"s":"0.55 nJ","x":1569,"y":-74.7},{"s":"0.55 nJ","x":1580,"y":-70},{"s":"0.55 nJ","x":1591,"y":-67.5},{"s":"0.55 nJ","x":1597,"y":-80},{"s":"0.55 nJ","x":1602,"y":-100},{"s":"0.55 nJ","x":1607,"y":-80},{"s":"0.55 nJ","x":1618,"y":-70},{"s":"0.55 nJ","x":1627,"y":-75},{"s":"0.55 nJ","x":1635,"y":-80},{"s":"0.55 nJ","x":1643,"y":-73},{"s":"0.55 nJ","x":1651,"y":-72},{"s":"0.55 nJ","x":1660,"y":-74},{"s":"0.55 nJ","x":1668,"y":-76},{"s":"0.55 nJ","x":1679,"y":-72},{"s":"0.55 nJ","x":1690,"y":-70},{"s":"0.55 nJ","x":1700,"y":-69},{"s":"0.55 nJ","x":1707,"y":-67.5},{"s":"0.55 nJ","x":1715,"y":-72},{"s":"0.55 nJ","x":1723,"y":-74},{"s":"0.55 nJ","x":1731,"y":-72},{"s":"0.55 nJ","x":1740,"y":-71.4},{"s":"0.55 nJ","x":1748,"y":-74},{"s":"0.55 nJ","x":1756,"y":-76.6},{"s":"0.55 nJ","x":1767,"y":-70},{"s":"0.55 nJ","x":1778,"y":-67.2},{"s":"0.55 nJ","x":1786,"y":-72},{"s":"0.55 nJ","x":1794,"y":-78},{"s":"0.55 nJ","x":1802,"y":-87.7},{"s":"0.55 nJ","x":1809,"y":-78},{"s":"0.55 nJ","x":1816,"y":-72},{"s":"0.55 nJ","x":1825,"y":-70},{"s":"0.55 nJ","x":1833,"y":-68},{"s":"0.55 nJ","x":1839,"y":-76},{"s":"0.55 nJ","x":1844,"y":-85},{"s":"0.55 nJ","x":1849,"y":-94},{"s":"0.55 nJ","x":1854,"y":-82},{"s":"0.55 nJ","x":1860,"y":-74.7},{"s":"0.55 nJ","x":1868,"y":-76},{"s":"0.55 nJ","x":1877,"y":-77},{"s":"0.55 nJ","x":1890,"y":-73},{"s":"0.55 nJ","x":1904,"y":-71.4},{"s":"0.55 nJ","x":1912,"y":-74},{"s":"0.55 nJ","x":1921,"y":-76},{"s":"0.55 nJ","x":1929,"y":-75},{"s":"0.55 nJ","x":1937,"y":-74.7},{"s":"0.55 nJ","x":1946,"y":-76},{"s":"0.55 nJ","x":1954,"y":-76.6},{"s":"0.55 nJ","x":1965,"y":-78},{"s":"0.55 nJ","x":1976,"y":-78.6},{"s":"0.55 nJ","x":1987,"y":-80},{"s":"0.55 nJ","x":1998,"y":-80.5},{"s":"0.55 nJ","x":2004,"y":-83},{"s":"0.55 nJ","x":2009,"y":-85},{"s":"0.55 nJ","x":2014,"y":-88},{"s":"0.55 nJ","x":2018,"y":-90},{"s":"0.55 nJ","x":2025,"y":-86},{"s":"0.55 nJ","x":2030,"y":-89},{"s":"0.55 nJ","x":2036,"y":-92.8},{"s":"0.55 nJ","x":2042,"y":-90},{"s":"0.55 nJ","x":2047,"y":-93},{"s":"0.55 nJ","x":2053,"y":-94},{"s":"0.55 nJ","x":2058,"y":-95.5},{"s":"0.55 nJ","x":2066,"y":-97},{"s":"0.55 nJ","x":2075,"y":-99.4},{"s":"0.55 nJ","x":2085,"y":-104},{"s":"0.55 nJ","x":2092,"y":-112},{"s":"0.55 nJ","x":2097,"y":-118},{"s":"0.55 nJ","x":2102,"y":-113},{"s":"0.55 nJ","x":2108,"y":-109},{"s":"0.55 nJ","x":2114,"y":-106},{"s":"0.55 nJ","x":2119,"y":-108},{"s":"0.55 nJ","x":2125,"y":-104},{"s":"0.55 nJ","x":2132,"y":-100},{"s":"0.55 nJ","x":2140,"y":-96},{"s":"0.55 nJ","x":2148,"y":-93},{"s":"0.55 nJ","x":2156,"y":-90.9},{"s":"0.55 nJ","x":2165,"y":-92},{"s":"0.55 nJ","x":2173,"y":-95},{"s":"0.55 nJ","x":2180,"y":-98},{"s":"0.55 nJ","x":2188,"y":-101},{"s":"0.55 nJ","x":2198,"y":-105.4},{"s":"0.55 nJ","x":2204,"y":-103},{"s":"0.55 nJ","x":2209,"y":-102},{"s":"0.55 nJ","x":2217,"y":-100},{"s":"0.55 nJ","x":2225,"y":-99},{"s":"0.55 nJ","x":2230,"y":-101},{"s":"0.55 nJ","x":2236,"y":-103.5},{"s":"0.55 nJ","x":2247,"y":-106},{"s":"0.55 nJ","x":2258,"y":-109},{"s":"0.55 nJ","x":2269,"y":-111},{"s":"0.55 nJ","x":2280,"y":-113.8},{"s":"0.55 nJ","x":2288,"y":-117},{"s":"0.55 nJ","x":2297,"y":-119},{"s":"0.55 nJ","x":2305,"y":-116},{"s":"0.55 nJ","x":2313,"y":-118},{"s":"0.55 nJ","x":2322,"y":-121},{"s":"0.55 nJ","x":2330,"y":-121.5},{"s":"0.55 nJ","x":2338,"y":-119},{"s":"0.55 nJ","x":2346,"y":-120},{"s":"0.55 nJ","x":2355,"y":-123},{"s":"0.55 nJ","x":2363,"y":-125},{"s":"0.55 nJ","x":2371,"y":-122},{"s":"0.55 nJ","x":2379,"y":-124},{"s":"0.55 nJ","x":2388,"y":-127},{"s":"0.55 nJ","x":2396,"y":-128},{"s":"0.55 nJ","x":2404,"y":-125},{"s":"0.55 nJ","x":2412,"y":-127},{"s":"0.55 nJ","x":2420,"y":-130},{"s":"0.55 nJ","x":2429,"y":-131},{"s":"0.55 nJ","x":2437,"y":-129},{"s":"0.55 nJ","x":2445,"y":-133.6},{"s":"0.55 nJ","x":2450,"y":-131},{"s":"0.55 nJ","x":2456,"y":-138},{"s":"0.55 nJ","x":2462,"y":-132},{"s":"0.55 nJ","x":2467,"y":-134},{"s":"0.55 nJ","x":2472,"y":-137},{"s":"0.55 nJ","x":2478,"y":-138.8},{"s":"0.55 nJ","x":2484,"y":-133},{"s":"0.55 nJ","x":2489,"y":-130.5},{"s":"0.55 nJ","x":2494,"y":-135.6},{"s":"0.55 nJ","x":2500,"y":-132}
],
"c": [
{"s":"(#SF₂) 0.55 nJ","x":741,"y":-140},{"s":"(#SF₂) 0.55 nJ","x":743,"y":-120},{"s":"(#SF₂) 0.55 nJ","x":745,"y":-105},{"s":"(#SF₂) 0.55 nJ","x":750,"y":-98},{"s":"(#SF₂) 0.55 nJ","x":755,"y":-94},{"s":"(#SF₂) 0.55 nJ","x":760,"y":-87},{"s":"(#SF₂) 0.55 nJ","x":766,"y":-81},{"s":"(#SF₂) 0.55 nJ","x":771,"y":-77},{"s":"(#SF₂) 0.55 nJ","x":777,"y":-74.7},{"s":"(#SF₂) 0.55 nJ","x":785,"y":-72},{"s":"(#SF₂) 0.55 nJ","x":793,"y":-70.8},{"s":"(#SF₂) 0.55 nJ","x":801,"y":-70.5},{"s":"(#SF₂) 0.55 nJ","x":810,"y":-70},{"s":"(#SF₂) 0.55 nJ","x":821,"y":-71},{"s":"(#SF₂) 0.55 nJ","x":832,"y":-71.5},{"s":"(#SF₂) 0.55 nJ","x":843,"y":-73},{"s":"(#SF₂) 0.55 nJ","x":854,"y":-72},{"s":"(#SF₂) 0.55 nJ","x":865,"y":-71.5},{"s":"(#SF₂) 0.55 nJ","x":876,"y":-73},{"s":"(#SF₂) 0.55 nJ","x":884,"y":-72},{"s":"(#SF₂) 0.55 nJ","x":892,"y":-74.7},{"s":"(#SF₂) 0.55 nJ","x":900,"y":-73},{"s":"(#SF₂) 0.55 nJ","x":909,"y":-73.5},{"s":"(#SF₂) 0.55 nJ","x":915,"y":-77},{"s":"(#SF₂) 0.55 nJ","x":920,"y":-80},{"s":"(#SF₂) 0.55 nJ","x":925,"y":-75},{"s":"(#SF₂) 0.55 nJ","x":929,"y":-76},{"s":"(#SF₂) 0.55 nJ","x":933,"y":-90},{"s":"(#SF₂) 0.55 nJ","x":936,"y":-101},{"s":"(#SF₂) 0.55 nJ","x":940,"y":-101},{"s":"(#SF₂) 0.55 nJ","x":944,"y":-90},{"s":"(#SF₂) 0.55 nJ","x":947,"y":-76},{"s":"(#SF₂) 0.55 nJ","x":955,"y":-75},{"s":"(#SF₂) 0.55 nJ","x":964,"y":-74},{"s":"(#SF₂) 0.55 nJ","x":972,"y":-75},{"s":"(#SF₂) 0.55 nJ","x":980,"y":-76.6},{"s":"(#SF₂) 0.55 nJ","x":988,"y":-78},{"s":"(#SF₂) 0.55 nJ","x":997,"y":-81},{"s":"(#SF₂) 0.55 nJ","x":1003,"y":-86},{"s":"(#SF₂) 0.55 nJ","x":1008,"y":-90},{"s":"(#SF₂) 0.55 nJ","x":1013,"y":-85},{"s":"(#SF₂) 0.55 nJ","x":1019,"y":-77},{"s":"(#SF₂) 0.55 nJ","x":1027,"y":-76},{"s":"(#SF₂) 0.55 nJ","x":1035,"y":-75},{"s":"(#SF₂) 0.55 nJ","x":1043,"y":-78},{"s":"(#SF₂) 0.55 nJ","x":1052,"y":-81},{"s":"(#SF₂) 0.55 nJ","x":1060,"y":-78},{"s":"(#SF₂) 0.55 nJ","x":1068,"y":-76},{"s":"(#SF₂) 0.55 nJ","x":1077,"y":-72},{"s":"(#SF₂) 0.55 nJ","x":1085,"y":-70},{"s":"(#SF₂) 0.55 nJ","x":1096,"y":-69.5},{"s":"(#SF₂) 0.55 nJ","x":1107,"y":-68.8},{"s":"(#SF₂) 0.55 nJ","x":1115,"y":-69},{"s":"(#SF₂) 0.55 nJ","x":1123,"y":-70.8},{"s":"(#SF₂) 0.55 nJ","x":1132,"y":-75},{"s":"(#SF₂) 0.55 nJ","x":1140,"y":-78},{"s":"(#SF₂) 0.55 nJ","x":1150,"y":-76},{"s":"(#SF₂) 0.55 nJ","x":1156,"y":-78},{"s":"(#SF₂) 0.55 nJ","x":1161,"y":-80},{"s":"(#SF₂) 0.55 nJ","x":1170,"y":-78},{"s":"(#SF₂) 0.55 nJ","x":1178,"y":-77},{"s":"(#SF₂) 0.55 nJ","x":1187,"y":-79},{"s":"(#SF₂) 0.55 nJ","x":1195,"y":-81},{"s":"(#SF₂) 0.55 nJ","x":1203,"y":-79},{"s":"(#SF₂) 0.55 nJ","x":1211,"y":-78.6},{"s":"(#SF₂) 0.55 nJ","x":1222,"y":-80},{"s":"(#SF₂) 0.55 nJ","x":1233,"y":-80.5},{"s":"(#SF₂) 0.55 nJ","x":1241,"y":-79},{"s":"(#SF₂) 0.55 nJ","x":1249,"y":-78},{"s":"(#SF₂) 0.55 nJ","x":1260,"y":-80},{"s":"(#SF₂) 0.55 nJ","x":1271,"y":-81.5},{"s":"(#SF₂) 0.55 nJ","x":1282,"y":-84},{"s":"(#SF₂) 0.55 nJ","x":1293,"y":-86.4},{"s":"(#SF₂) 0.55 nJ","x":1301,"y":-84},{"s":"(#SF₂) 0.55 nJ","x":1310,"y":-81},{"s":"(#SF₂) 0.55 nJ","x":1318,"y":-80.5},{"s":"(#SF₂) 0.55 nJ","x":1326,"y":-80},{"s":"(#SF₂) 0.55 nJ","x":1332,"y":-82},{"s":"(#SF₂) 0.55 nJ","x":1337,"y":-85},{"s":"(#SF₂) 0.55 nJ","x":1343,"y":-90},{"s":"(#SF₂) 0.55 nJ","x":1348,"y":-94},{"s":"(#SF₂) 0.55 nJ","x":1353,"y":-90},{"s":"(#SF₂) 0.55 nJ","x":1359,"y":-85},{"s":"(#SF₂) 0.55 nJ","x":1365,"y":-82},{"s":"(#SF₂) 0.55 nJ","x":1370,"y":-81},{"s":"(#SF₂) 0.55 nJ","x":1376,"y":-80},{"s":"(#SF₂) 0.55 nJ","x":1381,"y":-80},{"s":"(#SF₂) 0.55 nJ","x":1387,"y":-84},{"s":"(#SF₂) 0.55 nJ","x":1392,"y":-87.7},{"s":"(#SF₂) 0.55 nJ","x":1397,"y":-82},{"s":"(#SF₂) 0.55 nJ","x":1403,"y":-77},{"s":"(#SF₂) 0.55 nJ","x":1409,"y":-76},{"s":"(#SF₂) 0.55 nJ","x":1414,"y":-75.3},{"s":"(#SF₂) 0.55 nJ","x":1425,"y":-77},{"s":"(#SF₂) 0.55 nJ","x":1436,"y":-78},{"s":"(#SF₂) 0.55 nJ","x":1447,"y":-76},{"s":"(#SF₂) 0.55 nJ","x":1458,"y":-76},{"s":"(#SF₂) 0.55 nJ","x":1469,"y":-78},{"s":"(#SF₂) 0.55 nJ","x":1480,"y":-81},{"s":"(#SF₂) 0.55 nJ","x":1488,"y":-84},{"s":"(#SF₂) 0.55 nJ","x":1497,"y":-87.7},{"s":"(#SF₂) 0.55 nJ","x":1505,"y":-80},{"s":"(#SF₂) 0.55 nJ","x":1513,"y":-74.7},{"s":"(#SF₂) 0.55 nJ","x":1519,"y":-82},{"s":"(#SF₂) 0.55 nJ","x":1524,"y":-90},{"s":"(#SF₂) 0.55 nJ","x":1530,"y":-80},{"s":"(#SF₂) 0.55 nJ","x":1535,"y":-77},{"s":"(#SF₂) 0.55 nJ","x":1546,"y":-75},{"s":"(#SF₂) 0.55 nJ","x":1557,"y":-73.4},{"s":"(#SF₂) 0.55 nJ","x":1566,"y":-72},{"s":"(#SF₂) 0.55 nJ","x":1574,"y":-70.8},{"s":"(#SF₂) 0.55 nJ","x":1585,"y":-70},{"s":"(#SF₂) 0.55 nJ","x":1594,"y":-76},{"s":"(#SF₂) 0.55 nJ","x":1600,"y":-95},{"s":"(#SF₂) 0.55 nJ","x":1603,"y":-101},{"s":"(#SF₂) 0.55 nJ","x":1606,"y":-92},{"s":"(#SF₂) 0.55 nJ","x":1612,"y":-74},{"s":"(#SF₂) 0.55 nJ","x":1618,"y":-72},{"s":"(#SF₂) 0.55 nJ","x":1627,"y":-71},{"s":"(#SF₂) 0.55 nJ","x":1635,"y":-71},{"s":"(#SF₂) 0.55 nJ","x":1643,"y":-74},{"s":"(#SF₂) 0.55 nJ","x":1651,"y":-76},{"s":"(#SF₂) 0.55 nJ","x":1660,"y":-74},{"s":"(#SF₂) 0.55 nJ","x":1668,"y":-74},{"s":"(#SF₂) 0.55 nJ","x":1674,"y":-77},{"s":"(#SF₂) 0.55 nJ","x":1679,"y":-76},{"s":"(#SF₂) 0.55 nJ","x":1688,"y":-74},{"s":"(#SF₂) 0.55 nJ","x":1696,"y":-74},{"s":"(#SF₂) 0.55 nJ","x":1704,"y":-72},{"s":"(#SF₂) 0.55 nJ","x":1712,"y":-72},{"s":"(#SF₂) 0.55 nJ","x":1720,"y":-74},{"s":"(#SF₂) 0.55 nJ","x":1729,"y":-75},{"s":"(#SF₂) 0.55 nJ","x":1735,"y":-79},{"s":"(#SF₂) 0.55 nJ","x":1740,"y":-82.5},{"s":"(#SF₂) 0.55 nJ","x":1748,"y":-77},{"s":"(#SF₂) 0.55 nJ","x":1756,"y":-74},{"s":"(#SF₂) 0.55 nJ","x":1762,"y":-73},{"s":"(#SF₂) 0.55 nJ","x":1767,"y":-72.7},{"s":"(#SF₂) 0.55 nJ","x":1776,"y":-75},{"s":"(#SF₂) 0.55 nJ","x":1784,"y":-76},{"s":"(#SF₂) 0.55 nJ","x":1792,"y":-78},{"s":"(#SF₂) 0.55 nJ","x":1800,"y":-79},{"s":"(#SF₂) 0.55 nJ","x":1808,"y":-77},{"s":"(#SF₂) 0.55 nJ","x":1816,"y":-76},{"s":"(#SF₂) 0.55 nJ","x":1822,"y":-80},{"s":"(#SF₂) 0.55 nJ","x":1827,"y":-85.7},{"s":"(#SF₂) 0.55 nJ","x":1832,"y":-82},{"s":"(#SF₂) 0.55 nJ","x":1838,"y":-78},{"s":"(#SF₂) 0.55 nJ","x":1846,"y":-77},{"s":"(#SF₂) 0.55 nJ","x":1855,"y":-76},{"s":"(#SF₂) 0.55 nJ","x":1866,"y":-75.5},{"s":"(#SF₂) 0.55 nJ","x":1877,"y":-74.7},{"s":"(#SF₂) 0.55 nJ","x":1888,"y":-75},{"s":"(#SF₂) 0.55 nJ","x":1899,"y":-75.5},{"s":"(#SF₂) 0.55 nJ","x":1910,"y":-76},{"s":"(#SF₂) 0.55 nJ","x":1921,"y":-76.6},{"s":"(#SF₂) 0.55 nJ","x":1932,"y":-77},{"s":"(#SF₂) 0.55 nJ","x":1943,"y":-77.5},{"s":"(#SF₂) 0.55 nJ","x":1954,"y":-78},{"s":"(#SF₂) 0.55 nJ","x":1965,"y":-78.6},{"s":"(#SF₂) 0.55 nJ","x":1976,"y":-80},{"s":"(#SF₂) 0.55 nJ","x":1987,"y":-81},{"s":"(#SF₂) 0.55 nJ","x":1995,"y":-82.5},{"s":"(#SF₂) 0.55 nJ","x":2003,"y":-83.8},{"s":"(#SF₂) 0.55 nJ","x":2012,"y":-85.5},{"s":"(#SF₂) 0.55 nJ","x":2020,"y":-87},{"s":"(#SF₂) 0.55 nJ","x":2028,"y":-89},{"s":"(#SF₂) 0.55 nJ","x":2036,"y":-91},{"s":"(#SF₂) 0.55 nJ","x":2044,"y":-93.5},{"s":"(#SF₂) 0.55 nJ","x":2053,"y":-97},{"s":"(#SF₂) 0.55 nJ","x":2056,"y":-104},{"s":"(#SF₂) 0.55 nJ","x":2058,"y":-109},{"s":"(#SF₂) 0.55 nJ","x":2061,"y":-115},{"s":"(#SF₂) 0.55 nJ","x":2064,"y":-121.5},{"s":"(#SF₂) 0.55 nJ","x":2067,"y":-112},{"s":"(#SF₂) 0.55 nJ","x":2069,"y":-108},{"s":"(#SF₂) 0.55 nJ","x":2074,"y":-105},{"s":"(#SF₂) 0.55 nJ","x":2080,"y":-103.5},{"s":"(#SF₂) 0.55 nJ","x":2086,"y":-105},{"s":"(#SF₂) 0.55 nJ","x":2091,"y":-106},{"s":"(#SF₂) 0.55 nJ","x":2097,"y":-108},{"s":"(#SF₂) 0.55 nJ","x":2102,"y":-107},{"s":"(#SF₂) 0.55 nJ","x":2108,"y":-109},{"s":"(#SF₂) 0.55 nJ","x":2114,"y":-108},{"s":"(#SF₂) 0.55 nJ","x":2119,"y":-110},{"s":"(#SF₂) 0.55 nJ","x":2125,"y":-109.5},{"s":"(#SF₂) 0.55 nJ","x":2130,"y":-111},{"s":"(#SF₂) 0.55 nJ","x":2136,"y":-110},{"s":"(#SF₂) 0.55 nJ","x":2141,"y":-112},{"s":"(#SF₂) 0.55 nJ","x":2147,"y":-112},{"s":"(#SF₂) 0.55 nJ","x":2152,"y":-113.8},{"s":"(#SF₂) 0.55 nJ","x":2158,"y":-113},{"s":"(#SF₂) 0.55 nJ","x":2163,"y":-115},{"s":"(#SF₂) 0.55 nJ","x":2169,"y":-114.5},{"s":"(#SF₂) 0.55 nJ","x":2174,"y":-115.7},{"s":"(#SF₂) 0.55 nJ","x":2182,"y":-115},{"s":"(#SF₂) 0.55 nJ","x":2190,"y":-116},{"s":"(#SF₂) 0.55 nJ","x":2198,"y":-117},{"s":"(#SF₂) 0.55 nJ","x":2207,"y":-117.6},{"s":"(#SF₂) 0.55 nJ","x":2215,"y":-118},{"s":"(#SF₂) 0.55 nJ","x":2223,"y":-119},{"s":"(#SF₂) 0.55 nJ","x":2231,"y":-121},{"s":"(#SF₂) 0.55 nJ","x":2240,"y":-123.4},{"s":"(#SF₂) 0.55 nJ","x":2248,"y":-122},{"s":"(#SF₂) 0.55 nJ","x":2256,"y":-120.8},{"s":"(#SF₂) 0.55 nJ","x":2264,"y":-119.5},{"s":"(#SF₂) 0.55 nJ","x":2273,"y":-119},{"s":"(#SF₂) 0.55 nJ","x":2281,"y":-121},{"s":"(#SF₂) 0.55 nJ","x":2289,"y":-122.8},{"s":"(#SF₂) 0.55 nJ","x":2297,"y":-126},{"s":"(#SF₂) 0.55 nJ","x":2305,"y":-129.8},{"s":"(#SF₂) 0.55 nJ","x":2313,"y":-128},{"s":"(#SF₂) 0.55 nJ","x":2322,"y":-126.6},{"s":"(#SF₂) 0.55 nJ","x":2330,"y":-127},{"s":"(#SF₂) 0.55 nJ","x":2338,"y":-127},{"s":"(#SF₂) 0.55 nJ","x":2346,"y":-126.5},{"s":"(#SF₂) 0.55 nJ","x":2354,"y":-126},{"s":"(#SF₂) 0.55 nJ","x":2360,"y":-128},{"s":"(#SF₂) 0.55 nJ","x":2365,"y":-131},{"s":"(#SF₂) 0.55 nJ","x":2369,"y":-135},{"s":"(#SF₂) 0.55 nJ","x":2373,"y":-138},{"s":"(#SF₂) 0.55 nJ","x":2377,"y":-133},{"s":"(#SF₂) 0.55 nJ","x":2381,"y":-129},{"s":"(#SF₂) 0.55 nJ","x":2387,"y":-128.5},{"s":"(#SF₂) 0.55 nJ","x":2393,"y":-127.9},{"s":"(#SF₂) 0.55 nJ","x":2401,"y":-129},{"s":"(#SF₂) 0.55 nJ","x":2409,"y":-130},{"s":"(#SF₂) 0.55 nJ","x":2415,"y":-131.5},{"s":"(#SF₂) 0.55 nJ","x":2420,"y":-133},{"s":"(#SF₂) 0.55 nJ","x":2426,"y":-134.5},{"s":"(#SF₂) 0.55 nJ","x":2431,"y":-136},{"s":"(#SF₂) 0.55 nJ","x":2438,"y":-138.8},{"s":"(#SF₂) 0.55 nJ","x":2443,"y":-136},{"s":"(#SF₂) 0.55 nJ","x":2447,"y":-134},{"s":"(#SF₂) 0.55 nJ","x":2453,"y":-133.5},{"s":"(#SF₂) 0.55 nJ","x":2458,"y":-133},{"s":"(#SF₂) 0.55 nJ","x":2466,"y":-132},{"s":"(#SF₂) 0.55 nJ","x":2475,"y":-131.7},{"s":"(#SF₂) 0.55 nJ","x":2483,"y":-131},{"s":"(#SF₂) 0.55 nJ","x":2491,"y":-129.8},{"s":"(#SF₂) 0.55 nJ","x":2500,"y":-131},
{"s":"(#CF₂) 0.55 nJ","x":700,"y":-106},{"s":"(#CF₂) 0.55 nJ","x":704,"y":-118},{"s":"(#CF₂) 0.55 nJ","x":708,"y":-103},{"s":"(#CF₂) 0.55 nJ","x":713,"y":-122},{"s":"(#CF₂) 0.55 nJ","x":718,"y":-108},{"s":"(#CF₂) 0.55 nJ","x":723,"y":-120},{"s":"(#CF₂) 0.55 nJ","x":728,"y":-110},{"s":"(#CF₂) 0.55 nJ","x":733,"y":-123},{"s":"(#CF₂) 0.55 nJ","x":738,"y":-112},{"s":"(#CF₂) 0.55 nJ","x":744,"y":-115},{"s":"(#CF₂) 0.55 nJ","x":749,"y":-100},{"s":"(#CF₂) 0.55 nJ","x":753,"y":-90},{"s":"(#CF₂) 0.55 nJ","x":757,"y":-85},{"s":"(#CF₂) 0.55 nJ","x":762,"y":-78},{"s":"(#CF₂) 0.55 nJ","x":768,"y":-73},{"s":"(#CF₂) 0.55 nJ","x":777,"y":-70},{"s":"(#CF₂) 0.55 nJ","x":788,"y":-69.5},{"s":"(#CF₂) 0.55 nJ","x":796,"y":-72},{"s":"(#CF₂) 0.55 nJ","x":804,"y":-70},{"s":"(#CF₂) 0.55 nJ","x":815,"y":-67.5},{"s":"(#CF₂) 0.55 nJ","x":823,"y":-72},{"s":"(#CF₂) 0.55 nJ","x":832,"y":-73.4},{"s":"(#CF₂) 0.55 nJ","x":843,"y":-68},{"s":"(#CF₂) 0.55 nJ","x":851,"y":-74},{"s":"(#CF₂) 0.55 nJ","x":859,"y":-76},{"s":"(#CF₂) 0.55 nJ","x":870,"y":-70},{"s":"(#CF₂) 0.55 nJ","x":878,"y":-74},{"s":"(#CF₂) 0.55 nJ","x":887,"y":-77},{"s":"(#CF₂) 0.55 nJ","x":898,"y":-65.6},{"s":"(#CF₂) 0.55 nJ","x":909,"y":-64.6},{"s":"(#CF₂) 0.55 nJ","x":915,"y":-72},{"s":"(#CF₂) 0.55 nJ","x":920,"y":-80},{"s":"(#CF₂) 0.55 nJ","x":926,"y":-74},{"s":"(#CF₂) 0.55 nJ","x":931,"y":-71.4},{"s":"(#CF₂) 0.55 nJ","x":937,"y":-78},{"s":"(#CF₂) 0.55 nJ","x":942,"y":-85},{"s":"(#CF₂) 0.55 nJ","x":948,"y":-75},{"s":"(#CF₂) 0.55 nJ","x":953,"y":-68},{"s":"(#CF₂) 0.55 nJ","x":958,"y":-80},{"s":"(#CF₂) 0.55 nJ","x":964,"y":-87.7},{"s":"(#CF₂) 0.55 nJ","x":970,"y":-78},{"s":"(#CF₂) 0.55 nJ","x":975,"y":-73.4},{"s":"(#CF₂) 0.55 nJ","x":981,"y":-85},{"s":"(#CF₂) 0.55 nJ","x":986,"y":-101},{"s":"(#CF₂) 0.55 nJ","x":991,"y":-84},{"s":"(#CF₂) 0.55 nJ","x":997,"y":-70},{"s":"(#CF₂) 0.55 nJ","x":1003,"y":-74},{"s":"(#CF₂) 0.55 nJ","x":1008,"y":-78},{"s":"(#CF₂) 0.55 nJ","x":1016,"y":-72},{"s":"(#CF₂) 0.55 nJ","x":1024,"y":-67.5},{"s":"(#CF₂) 0.55 nJ","x":1030,"y":-72},{"s":"(#CF₂) 0.55 nJ","x":1035,"y":-74.7},{"s":"(#CF₂) 0.55 nJ","x":1043,"y":-72},{"s":"(#CF₂) 0.55 nJ","x":1052,"y":-70},{"s":"(#CF₂) 0.55 nJ","x":1058,"y":-74},{"s":"(#CF₂) 0.55 nJ","x":1063,"y":-76},{"s":"(#CF₂) 0.55 nJ","x":1068,"y":-70},{"s":"(#CF₂) 0.55 nJ","x":1074,"y":-65},{"s":"(#CF₂) 0.55 nJ","x":1080,"y":-78},{"s":"(#CF₂) 0.55 nJ","x":1085,"y":-107.6},{"s":"(#CF₂) 0.55 nJ","x":1090,"y":-80},{"s":"(#CF₂) 0.55 nJ","x":1096,"y":-71.4},{"s":"(#CF₂) 0.55 nJ","x":1102,"y":-74},{"s":"(#CF₂) 0.55 nJ","x":1107,"y":-70},{"s":"(#CF₂) 0.55 nJ","x":1113,"y":-73},{"s":"(#CF₂) 0.55 nJ","x":1118,"y":-76},{"s":"(#CF₂) 0.55 nJ","x":1124,"y":-72},{"s":"(#CF₂) 0.55 nJ","x":1129,"y":-72},{"s":"(#CF₂) 0.55 nJ","x":1135,"y":-75},{"s":"(#CF₂) 0.55 nJ","x":1140,"y":-78},{"s":"(#CF₂) 0.55 nJ","x":1145,"y":-75},{"s":"(#CF₂) 0.55 nJ","x":1150,"y":-74},{"s":"(#CF₂) 0.55 nJ","x":1158,"y":-80},{"s":"(#CF₂) 0.55 nJ","x":1167,"y":-85},{"s":"(#CF₂) 0.55 nJ","x":1175,"y":-82},{"s":"(#CF₂) 0.55 nJ","x":1184,"y":-81},{"s":"(#CF₂) 0.55 nJ","x":1190,"y":-90},{"s":"(#CF₂) 0.55 nJ","x":1195,"y":-115},{"s":"(#CF₂) 0.55 nJ","x":1200,"y":-90},{"s":"(#CF₂) 0.55 nJ","x":1205,"y":-85},{"s":"(#CF₂) 0.55 nJ","x":1213,"y":-80},{"s":"(#CF₂) 0.55 nJ","x":1222,"y":-78},{"s":"(#CF₂) 0.55 nJ","x":1230,"y":-73},{"s":"(#CF₂) 0.55 nJ","x":1238,"y":-70},{"s":"(#CF₂) 0.55 nJ","x":1247,"y":-72},{"s":"(#CF₂) 0.55 nJ","x":1255,"y":-76},{"s":"(#CF₂) 0.55 nJ","x":1263,"y":-79},{"s":"(#CF₂) 0.55 nJ","x":1271,"y":-80},{"s":"(#CF₂) 0.55 nJ","x":1280,"y":-74},{"s":"(#CF₂) 0.55 nJ","x":1288,"y":-70},{"s":"(#CF₂) 0.55 nJ","x":1294,"y":-73},{"s":"(#CF₂) 0.55 nJ","x":1299,"y":-78},{"s":"(#CF₂) 0.55 nJ","x":1307,"y":-81},{"s":"(#CF₂) 0.55 nJ","x":1315,"y":-83},{"s":"(#CF₂) 0.55 nJ","x":1323,"y":-90},{"s":"(#CF₂) 0.55 nJ","x":1332,"y":-97.4},{"s":"(#CF₂) 0.55 nJ","x":1338,"y":-88},{"s":"(#CF₂) 0.55 nJ","x":1343,"y":-85},{"s":"(#CF₂) 0.55 nJ","x":1349,"y":-86},{"s":"(#CF₂) 0.55 nJ","x":1354,"y":-89},{"s":"(#CF₂) 0.55 nJ","x":1360,"y":-84},{"s":"(#CF₂) 0.55 nJ","x":1365,"y":-81},{"s":"(#CF₂) 0.55 nJ","x":1371,"y":-82},{"s":"(#CF₂) 0.55 nJ","x":1376,"y":-84},{"s":"(#CF₂) 0.55 nJ","x":1382,"y":-90},{"s":"(#CF₂) 0.55 nJ","x":1387,"y":-101},{"s":"(#CF₂) 0.55 nJ","x":1392,"y":-88},{"s":"(#CF₂) 0.55 nJ","x":1398,"y":-79},{"s":"(#CF₂) 0.55 nJ","x":1404,"y":-77},{"s":"(#CF₂) 0.55 nJ","x":1409,"y":-76},{"s":"(#CF₂) 0.55 nJ","x":1417,"y":-78},{"s":"(#CF₂) 0.55 nJ","x":1425,"y":-74.7},{"s":"(#CF₂) 0.55 nJ","x":1433,"y":-77},{"s":"(#CF₂) 0.55 nJ","x":1442,"y":-73.4},{"s":"(#CF₂) 0.55 nJ","x":1450,"y":-75},{"s":"(#CF₂) 0.55 nJ","x":1458,"y":-76},{"s":"(#CF₂) 0.55 nJ","x":1466,"y":-74},{"s":"(#CF₂) 0.55 nJ","x":1475,"y":-72.7},{"s":"(#CF₂) 0.55 nJ","x":1483,"y":-76},{"s":"(#CF₂) 0.55 nJ","x":1491,"y":-78},{"s":"(#CF₂) 0.55 nJ","x":1500,"y":-74},{"s":"(#CF₂) 0.55 nJ","x":1508,"y":-72},{"s":"(#CF₂) 0.55 nJ","x":1516,"y":-76},{"s":"(#CF₂) 0.55 nJ","x":1524,"y":-74},{"s":"(#CF₂) 0.55 nJ","x":1532,"y":-82},{"s":"(#CF₂) 0.55 nJ","x":1540,"y":-80},{"s":"(#CF₂) 0.55 nJ","x":1546,"y":-86},{"s":"(#CF₂) 0.55 nJ","x":1552,"y":-87.7},{"s":"(#CF₂) 0.55 nJ","x":1560,"y":-78},{"s":"(#CF₂) 0.55 nJ","x":1569,"y":-74.7},{"s":"(#CF₂) 0.55 nJ","x":1580,"y":-70},{"s":"(#CF₂) 0.55 nJ","x":1591,"y":-67.5},{"s":"(#CF₂) 0.55 nJ","x":1597,"y":-80},{"s":"(#CF₂) 0.55 nJ","x":1602,"y":-100},{"s":"(#CF₂) 0.55 nJ","x":1607,"y":-80},{"s":"(#CF₂) 0.55 nJ","x":1618,"y":-70},{"s":"(#CF₂) 0.55 nJ","x":1627,"y":-75},{"s":"(#CF₂) 0.55 nJ","x":1635,"y":-80},{"s":"(#CF₂) 0.55 nJ","x":1643,"y":-73},{"s":"(#CF₂) 0.55 nJ","x":1651,"y":-72},{"s":"(#CF₂) 0.55 nJ","x":1660,"y":-74},{"s":"(#CF₂) 0.55 nJ","x":1668,"y":-76},{"s":"(#CF₂) 0.55 nJ","x":1679,"y":-72},{"s":"(#CF₂) 0.55 nJ","x":1690,"y":-70},{"s":"(#CF₂) 0.55 nJ","x":1700,"y":-69},{"s":"(#CF₂) 0.55 nJ","x":1707,"y":-67.5},{"s":"(#CF₂) 0.55 nJ","x":1715,"y":-72},{"s":"(#CF₂) 0.55 nJ","x":1723,"y":-74},{"s":"(#CF₂) 0.55 nJ","x":1731,"y":-72},{"s":"(#CF₂) 0.55 nJ","x":1740,"y":-71.4},{"s":"(#CF₂) 0.55 nJ","x":1748,"y":-74},{"s":"(#CF₂) 0.55 nJ","x":1756,"y":-76.6},{"s":"(#CF₂) 0.55 nJ","x":1767,"y":-70},{"s":"(#CF₂) 0.55 nJ","x":1778,"y":-67.2},{"s":"(#CF₂) 0.55 nJ","x":1786,"y":-72},{"s":"(#CF₂) 0.55 nJ","x":1794,"y":-78},{"s":"(#CF₂) 0.55 nJ","x":1802,"y":-87.7},{"s":"(#CF₂) 0.55 nJ","x":1809,"y":-78},{"s":"(#CF₂) 0.55 nJ","x":1816,"y":-72},{"s":"(#CF₂) 0.55 nJ","x":1825,"y":-70},{"s":"(#CF₂) 0.55 nJ","x":1833,"y":-68},{"s":"(#CF₂) 0.55 nJ","x":1839,"y":-76},{"s":"(#CF₂) 0.55 nJ","x":1844,"y":-85},{"s":"(#CF₂) 0.55 nJ","x":1849,"y":-94},{"s":"(#CF₂) 0.55 nJ","x":1854,"y":-82},{"s":"(#CF₂) 0.55 nJ","x":1860,"y":-74.7},{"s":"(#CF₂) 0.55 nJ","x":1868,"y":-76},{"s":"(#CF₂) 0.55 nJ","x":1877,"y":-77},{"s":"(#CF₂) 0.55 nJ","x":1890,"y":-73},{"s":"(#CF₂) 0.55 nJ","x":1904,"y":-71.4},{"s":"(#CF₂) 0.55 nJ","x":1912,"y":-74},{"s":"(#CF₂) 0.55 nJ","x":1921,"y":-76},{"s":"(#CF₂) 0.55 nJ","x":1929,"y":-75},{"s":"(#CF₂) 0.55 nJ","x":1937,"y":-74.7},{"s":"(#CF₂) 0.55 nJ","x":1946,"y":-76},{"s":"(#CF₂) 0.55 nJ","x":1954,"y":-76.6},{"s":"(#CF₂) 0.55 nJ","x":1965,"y":-78},{"s":"(#CF₂) 0.55 nJ","x":1976,"y":-78.6},{"s":"(#CF₂) 0.55 nJ","x":1987,"y":-80},{"s":"(#CF₂) 0.55 nJ","x":1998,"y":-80.5},{"s":"(#CF₂) 0.55 nJ","x":2004,"y":-83},{"s":"(#CF₂) 0.55 nJ","x":2009,"y":-85},{"s":"(#CF₂) 0.55 nJ","x":2014,"y":-88},{"s":"(#CF₂) 0.55 nJ","x":2018,"y":-90},{"s":"(#CF₂) 0.55 nJ","x":2025,"y":-86},{"s":"(#CF₂) 0.55 nJ","x":2030,"y":-89},{"s":"(#CF₂) 0.55 nJ","x":2036,"y":-92.8},{"s":"(#CF₂) 0.55 nJ","x":2042,"y":-90},{"s":"(#CF₂) 0.55 nJ","x":2047,"y":-93},{"s":"(#CF₂) 0.55 nJ","x":2053,"y":-94},{"s":"(#CF₂) 0.55 nJ","x":2058,"y":-95.5},{"s":"(#CF₂) 0.55 nJ","x":2066,"y":-97},{"s":"(#CF₂) 0.55 nJ","x":2075,"y":-99.4},{"s":"(#CF₂) 0.55 nJ","x":2085,"y":-104},{"s":"(#CF₂) 0.55 nJ","x":2092,"y":-112},{"s":"(#CF₂) 0.55 nJ","x":2097,"y":-118},{"s":"(#CF₂) 0.55 nJ","x":2102,"y":-113},{"s":"(#CF₂) 0.55 nJ","x":2108,"y":-109},{"s":"(#CF₂) 0.55 nJ","x":2114,"y":-106},{"s":"(#CF₂) 0.55 nJ","x":2119,"y":-108},{"s":"(#CF₂) 0.55 nJ","x":2125,"y":-104},{"s":"(#CF₂) 0.55 nJ","x":2132,"y":-100},{"s":"(#CF₂) 0.55 nJ","x":2140,"y":-96},{"s":"(#CF₂) 0.55 nJ","x":2148,"y":-93},{"s":"(#CF₂) 0.55 nJ","x":2156,"y":-90.9},{"s":"(#CF₂) 0.55 nJ","x":2165,"y":-92},{"s":"(#CF₂) 0.55 nJ","x":2173,"y":-95},{"s":"(#CF₂) 0.55 nJ","x":2180,"y":-98},{"s":"(#CF₂) 0.55 nJ","x":2188,"y":-101},{"s":"(#CF₂) 0.55 nJ","x":2198,"y":-105.4},{"s":"(#CF₂) 0.55 nJ","x":2204,"y":-103},{"s":"(#CF₂) 0.55 nJ","x":2209,"y":-102},{"s":"(#CF₂) 0.55 nJ","x":2217,"y":-100},{"s":"(#CF₂) 0.55 nJ","x":2225,"y":-99},{"s":"(#CF₂) 0.55 nJ","x":2230,"y":-101},{"s":"(#CF₂) 0.55 nJ","x":2236,"y":-103.5},{"s":"(#CF₂) 0.55 nJ","x":2247,"y":-106},{"s":"(#CF₂) 0.55 nJ","x":2258,"y":-109},{"s":"(#CF₂) 0.55 nJ","x":2269,"y":-111},{"s":"(#CF₂) 0.55 nJ","x":2280,"y":-113.8},{"s":"(#CF₂) 0.55 nJ","x":2288,"y":-117},{"s":"(#CF₂) 0.55 nJ","x":2297,"y":-119},{"s":"(#CF₂) 0.55 nJ","x":2305,"y":-116},{"s":"(#CF₂) 0.55 nJ","x":2313,"y":-118},{"s":"(#CF₂) 0.55 nJ","x":2322,"y":-121},{"s":"(#CF₂) 0.55 nJ","x":2330,"y":-121.5},{"s":"(#CF₂) 0.55 nJ","x":2338,"y":-119},{"s":"(#CF₂) 0.55 nJ","x":2346,"y":-120},{"s":"(#CF₂) 0.55 nJ","x":2355,"y":-123},{"s":"(#CF₂) 0.55 nJ","x":2363,"y":-125},{"s":"(#CF₂) 0.55 nJ","x":2371,"y":-122},{"s":"(#CF₂) 0.55 nJ","x":2379,"y":-124},{"s":"(#CF₂) 0.55 nJ","x":2388,"y":-127},{"s":"(#CF₂) 0.55 nJ","x":2396,"y":-128},{"s":"(#CF₂) 0.55 nJ","x":2404,"y":-125},{"s":"(#CF₂) 0.55 nJ","x":2412,"y":-127},{"s":"(#CF₂) 0.55 nJ","x":2420,"y":-130},{"s":"(#CF₂) 0.55 nJ","x":2429,"y":-131},{"s":"(#CF₂) 0.55 nJ","x":2437,"y":-129},{"s":"(#CF₂) 0.55 nJ","x":2445,"y":-133.6},{"s":"(#CF₂) 0.55 nJ","x":2450,"y":-131},{"s":"(#CF₂) 0.55 nJ","x":2456,"y":-138},{"s":"(#CF₂) 0.55 nJ","x":2462,"y":-132},{"s":"(#CF₂) 0.55 nJ","x":2467,"y":-134},{"s":"(#CF₂) 0.55 nJ","x":2472,"y":-137},{"s":"(#CF₂) 0.55 nJ","x":2478,"y":-138.8},{"s":"(#CF₂) 0.55 nJ","x":2484,"y":-133},{"s":"(#CF₂) 0.55 nJ","x":2489,"y":-130.5},{"s":"(#CF₂) 0.55 nJ","x":2494,"y":-135.6},{"s":"(#CF₂) 0.55 nJ","x":2500,"y":-132}
],
"ann": [
{"t":"v","id":"v1","k":"m","x":731.3,"y":-140,"y2":-55},{"t":"v","id":"v2","k":"b","x":743.8,"y":-140,"y2":-55},{"t":"v","id":"v3","k":"b","x":2433.4,"y":-140,"y2":-55},{"t":"v","id":"v4","k":"m","x":2484.4,"y":-140,"y2":-55},
{"t":"h","id":"h1","k":"b","x":743.8,"x2":2433.4,"y":-105,"y2":-105},{"t":"h","id":"h2","k":"m","x":731.3,"x2":2484.4,"y":-115,"y2":-115},
{"t":"d","id":"dlm","k":"m","x":844,"y":-127,"x2":740,"y2":-138.5},{"t":"d","id":"dlb","k":"b","x":1009,"y":-133.5,"x2":760,"y2":-139},{"t":"d","id":"drm","k":"m","x":2143,"y":-127.7,"x2":2476,"y2":-138.5},{"t":"d","id":"drb","k":"b","x":2005,"y":-133.2,"x2":2428,"y2":-139},
{"t":"dh","id":"dlm","k":"m","x":740,"y":-138.5},{"t":"dh","id":"dlb","k":"b","x":760,"y":-139},{"t":"dh","id":"drm","k":"m","x":2476,"y":-138.5},{"t":"dh","id":"drb","k":"b","x":2428,"y":-139},
{"t":"hl","id":"a1","k":"b","x":760,"y":-105},{"t":"hr","id":"a2","k":"b","x":2418,"y":-105},{"t":"hl","id":"a3","k":"m","x":748,"y":-115},{"t":"hr","id":"a4","k":"m","x":2469,"y":-115},
{"t":"txt","id":"t1","k":"m","x":877,"y":-124.5,"label":"731.3"},{"t":"txt","id":"t2","k":"b","x":1042,"y":-130.6,"label":"743.8"},{"t":"txt","id":"t3","k":"m","x":2083,"y":-124.8,"label":"2484.4"},{"t":"txt","id":"t4","k":"b","x":1978,"y":-130.6,"label":"2433.4"},{"t":"txt","id":"t5","k":"b","x":1615,"y":-101.5,"label":"1689.6 nm"},{"t":"txt","id":"t6","k":"m","x":1615,"y":-111.3,"label":"1753.1 nm"}
]
},
"vconcat": [
{
"vconcat": [
{
"width": 524, "height": 411,
"data": {"name": "a"},
"title": {"text": "(a)", "orient": "bottom", "anchor": "start", "frame": "bounds", "offset": -30, "fontSize": 22, "dx": -6},
"mark": {"type": "line", "strokeWidth": 2, "clip": true},
"encoding": {
"x": {"field": "x", "type": "quantitative", "scale": {"domain": [700, 2500], "nice": false, "zero": false}, "axis": {"title": "Wavelength (nm)", "values": [700,800,900,1000,1100,1200,1300,1400,1500,1600,1700,1800,1900,2000,2100,2200,2300,2400,2500], "labelExpr": "datum.value % 200 == 100 ? '' + datum.value : ''", "labelFontSize": 17, "titleFontSize": 22, "labelPadding": 8, "titlePadding": 13}},
"y": {"field": "y", "type": "quantitative", "scale": {"domain": [-140, -55], "nice": false, "zero": false}, "axis": {"title": "Intensity (5 dB/div)", "values": [-140,-135,-130,-125,-120,-115,-110,-105,-100,-95,-90,-85,-80,-75,-70,-65,-60,-55], "labelExpr": "'' + datum.value", "labelFontSize": 17, "titleFontSize": 22, "labelPadding": 8, "titlePadding": 6}},
"color": {"field": "s", "type": "nominal", "scale": {"domain": ["0.05 nJ","0.15 nJ","0.25 nJ","0.35 nJ","0.45 nJ","0.55 nJ"], "range": ["#7d1a1a","#22a7e8","#b08c3c","#ea1f6f","#9933cc","#2fe024"]}, "legend": {"title": "S-PCF", "orient": "top-right", "offset": 9, "fillColor": "white", "strokeColor": "#444", "padding": 6, "titleAnchor": "middle", "titleFontSize": 18, "labelFontSize": 18, "symbolType": "M-3.44,0H1", "symbolSize": 324, "symbolOffset": 22, "symbolStrokeWidth": 2, "rowPadding": 3.5, "labelOffset": 3, "titlePadding": 3}},
"strokeDash": {"field": "s", "type": "nominal", "scale": {"domain": ["0.05 nJ","0.15 nJ","0.25 nJ","0.35 nJ","0.45 nJ","0.55 nJ"], "range": [[9,3,2,3],[1,0],[6,4],[1,0],[2,2.5],[1,0]]}, "legend": {"title": "S-PCF", "orient": "top-right", "offset": 9, "fillColor": "white", "strokeColor": "#444", "padding": 6, "titleAnchor": "middle", "titleFontSize": 18, "labelFontSize": 18, "symbolType": "M-3.44,0H1", "symbolSize": 324, "symbolOffset": 22, "symbolStrokeWidth": 2, "rowPadding": 3.5, "labelOffset": 3, "titlePadding": 3}}
}
},
{
"width": 525, "height": 413,
"data": {"name": "b"},
"title": {"text": "(b)", "orient": "bottom", "anchor": "start", "frame": "bounds", "offset": -30, "fontSize": 22, "dx": -6},
"mark": {"type": "line", "strokeWidth": 2, "clip": true},
"encoding": {
"x": {"field": "x", "type": "quantitative", "scale": {"domain": [700, 2500], "nice": false, "zero": false}, "axis": {"title": "Wavelength (nm)", "values": [700,800,900,1000,1100,1200,1300,1400,1500,1600,1700,1800,1900,2000,2100,2200,2300,2400,2500], "labelExpr": "datum.value % 200 == 100 ? '' + datum.value : ''", "labelFontSize": 17, "titleFontSize": 22, "labelPadding": 8, "titlePadding": 13}},
"y": {"field": "y", "type": "quantitative", "scale": {"domain": [-140, -55], "nice": false, "zero": false}, "axis": {"title": "Intensity (5 dB/div)", "values": [-140,-135,-130,-125,-120,-115,-110,-105,-100,-95,-90,-85,-80,-75,-70,-65,-60,-55], "labelExpr": "'' + datum.value", "labelFontSize": 17, "titleFontSize": 22, "labelPadding": 8, "titlePadding": 6}},
"color": {"field": "s", "type": "nominal", "scale": {"domain": ["0.05 nJ","0.15 nJ","0.25 nJ","0.35 nJ","0.45 nJ","0.55 nJ"], "range": ["#7d1a1a","#22a7e8","#b08c3c","#ea1f6f","#27c93a","#8e1fc8"]}, "legend": {"title": "C-PCF", "orient": "top-right", "offset": 9, "fillColor": "white", "strokeColor": "#444", "padding": 6, "titleAnchor": "middle", "titleFontSize": 18, "labelFontSize": 18, "symbolType": "M-3.44,0H1", "symbolSize": 324, "symbolOffset": 22, "symbolStrokeWidth": 2, "rowPadding": 3.5, "labelOffset": 3, "titlePadding": 3}},
"strokeDash": {"field": "s", "type": "nominal", "scale": {"domain": ["0.05 nJ","0.15 nJ","0.25 nJ","0.35 nJ","0.45 nJ","0.55 nJ"], "range": [[9,3,2,3],[1,0],[6,4],[1,0],[2,2.5],[1,0]]}, "legend": {"title": "C-PCF", "orient": "top-right", "offset": 9, "fillColor": "white", "strokeColor": "#444", "padding": 6, "titleAnchor": "middle", "titleFontSize": 18, "labelFontSize": 18, "symbolType": "M-3.44,0H1", "symbolSize": 324, "symbolOffset": 22, "symbolStrokeWidth": 2, "rowPadding": 3.5, "labelOffset": 3, "titlePadding": 3}}
}
}
],
"spacing": 56,
"resolve": {"scale": {"x": "independent", "y": "independent", "color": "independent", "strokeDash": "independent"}, "legend": {"color": "independent", "strokeDash": "independent"}, "axis": {"x": "independent", "y": "independent"}}
},
{
"width": 545, "height": 437,
"title": {"text": "(c)", "orient": "bottom", "anchor": "start", "frame": "bounds", "offset": -30, "fontSize": 23, "dx": -6},
"encoding": {
"x": {"field": "x", "type": "quantitative", "scale": {"domain": [700, 2500], "nice": false, "zero": false}, "axis": {"title": "Wavelength (nm)", "values": [700,800,900,1000,1100,1200,1300,1400,1500,1600,1700,1800,1900,2000,2100,2200,2300,2400,2500], "labelExpr": "datum.value % 200 == 100 ? '' + datum.value : ''", "labelFontSize": 19, "titleFontSize": 24, "labelPadding": 3, "titlePadding": 12}},
"y": {"field": "y", "type": "quantitative", "scale": {"domain": [-140, -55], "nice": false, "zero": false}, "axis": {"title": "Intensity (5 dB/div)", "values": [-140,-135,-130,-125,-120,-115,-110,-105,-100,-95,-90,-85,-80,-75,-70,-65,-60,-55], "labelExpr": "'' + datum.value", "labelFontSize": 19, "titleFontSize": 23, "labelPadding": 6, "titlePadding": 5}}
},
"layer": [
{
"data": {"name": "c"},
"mark": {"type": "line", "strokeWidth": 2, "clip": true},
"encoding": {
"color": {"field": "s", "type": "nominal", "scale": {"domain": ["(#SF₂) 0.55 nJ","(#CF₂) 0.55 nJ"], "range": ["#2fdd24","#9a22cc"]}, "legend": {"title": null, "orient": "none", "legendX": 172, "legendY": -9, "fillColor": "white", "strokeColor": "#444", "padding": 10, "labelFontSize": 20, "symbolType": "M-4.2,0H1", "symbolSize": 400, "symbolOffset": 32, "symbolStrokeWidth": 2, "rowPadding": 8, "labelOffset": 4}},
"strokeDash": {"field": "s", "type": "nominal", "scale": {"domain": ["(#SF₂) 0.55 nJ","(#CF₂) 0.55 nJ"], "range": [[1,0],[9,3,2,3]]}, "legend": {"title": null, "orient": "none", "legendX": 172, "legendY": -9, "fillColor": "white", "strokeColor": "#444", "padding": 10, "labelFontSize": 20, "symbolType": "M-4.2,0H1", "symbolSize": 400, "symbolOffset": 32, "symbolStrokeWidth": 2, "rowPadding": 8, "labelOffset": 4}}
}
},
{
"data": {"name": "ann"},
"transform": [{"filter": "datum.t == 'v'"}],
"mark": {"type": "rule", "strokeWidth": 2, "strokeDash": [4, 3]},
"encoding": {
"y2": {"field": "y2"},
"stroke": {"field": "k", "type": "nominal", "scale": {"domain": ["m","b"], "range": ["#8b1c1c","#2e74c0"]}, "legend": null}
}
},
{
"data": {"name": "ann"},
"transform": [{"filter": "datum.t == 'h' || datum.t == 'd'"}],
"mark": {"type": "rule", "strokeWidth": 2},
"encoding": {
"x2": {"field": "x2"},
"y2": {"field": "y2"},
"stroke": {"field": "k", "type": "nominal", "scale": {"domain": ["m","b"], "range": ["#8b1c1c","#2e74c0"]}, "legend": null}
}
},
{
"data": {"name": "ann"},
"transform": [{"filter": "datum.t == 'hl'"}],
"mark": {"type": "point", "shape": "triangle-left", "filled": true, "size": 110, "opacity": 1},
"encoding": {
"fill": {"field": "k", "type": "nominal", "scale": {"domain": ["m","b"], "range": ["#8b1c1c","#2e74c0"]}, "legend": null}
}
},
{
"data": {"name": "ann"},
"transform": [{"filter": "datum.t == 'hr'"}],
"mark": {"type": "point", "shape": "triangle-right", "filled": true, "size": 110, "opacity": 1},
"encoding": {
"fill": {"field": "k", "type": "nominal", "scale": {"domain": ["m","b"], "range": ["#8b1c1c","#2e74c0"]}, "legend": null}
}
},
{
"data": {"name": "ann"},
"transform": [{"filter": "datum.t == 'dh' && datum.id == 'dlm'"}],
"mark": {"type": "point", "shape": "triangle-up", "filled": true, "size": 110, "opacity": 1, "angle": 207},
"encoding": {
"fill": {"field": "k", "type": "nominal", "scale": {"domain": ["m","b"], "range": ["#8b1c1c","#2e74c0"]}, "legend": null}
}
},
{
"data": {"name": "ann"},
"transform": [{"filter": "datum.t == 'dh' && datum.id == 'dlb'"}],
"mark": {"type": "point", "shape": "triangle-up", "filled": true, "size": 110, "opacity": 1, "angle": 249},
"encoding": {
"fill": {"field": "k", "type": "nominal", "scale": {"domain": ["m","b"], "range": ["#8b1c1c","#2e74c0"]}, "legend": null}
}
},
{
"data": {"name": "ann"},
"transform": [{"filter": "datum.t == 'dh' && datum.id == 'drm'"}],
"mark": {"type": "point", "shape": "triangle-up", "filled": true, "size": 110, "opacity": 1, "angle": 119},
"encoding": {
"fill": {"field": "k", "type": "nominal", "scale": {"domain": ["m","b"], "range": ["#8b1c1c","#2e74c0"]}, "legend": null}
}
},
{
"data": {"name": "ann"},
"transform": [{"filter": "datum.t == 'dh' && datum.id == 'drb'"}],
"mark": {"type": "point", "shape": "triangle-up", "filled": true, "size": 110, "opacity": 1, "angle": 103},
"encoding": {
"fill": {"field": "k", "type": "nominal", "scale": {"domain": ["m","b"], "range": ["#8b1c1c","#2e74c0"]}, "legend": null}
}
},
{
"data": {"name": "ann"},
"transform": [{"filter": "datum.t == 'txt'"}],
"mark": {"type": "text", "fontSize": 22, "font": "Liberation Sans", "align": "center", "baseline": "middle"},
"encoding": {
"text": {"field": "label"},
"fill": {"field": "k", "type": "nominal", "scale": {"domain": ["m","b"], "range": ["#8b1c1c","#2e74c0"]}, "legend": null}
}
}
]
}
],
"spacing": 40,
"resolve": {"scale": {"x": "independent", "y": "independent", "color": "independent", "strokeDash": "independent"}, "legend": {"color": "independent", "strokeDash": "independent"}, "axis": {"x": "independent", "y": "independent"}}
}
